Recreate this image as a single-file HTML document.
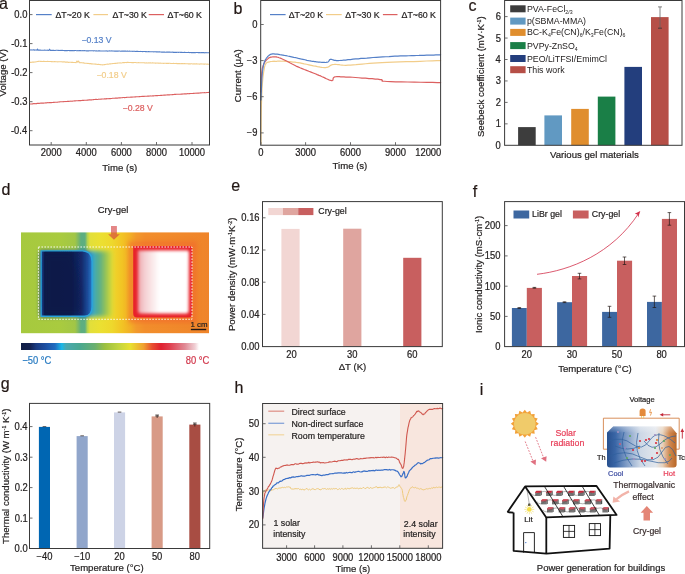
<!DOCTYPE html>
<html><head><meta charset="utf-8"><style>
html,body{margin:0;padding:0;background:#fff;width:685px;height:574px;overflow:hidden}
svg{display:block;will-change:transform;font-family:"Liberation Sans",sans-serif}
</style></head><body>
<svg width="685" height="574" viewBox="0 0 685 574">
<rect width="685" height="574" fill="#fff"/>
<text x="-0.90" y="9.45" font-size="16" fill="#231815" stroke="#231815" stroke-width="0.2">a</text>
<path d="M29.50,49.84 L30.25,49.93 L31.00,49.91 L31.75,49.98 L32.50,50.01 L33.25,49.90 L34.00,49.90 L34.75,50.12 L35.50,50.00 L36.25,50.02 L37.00,50.22 L37.50,48.99 L38.20,50.18 L38.92,50.11 L39.64,50.16 L40.36,50.06 L41.08,50.19 L41.80,50.25 L42.52,50.19 L43.24,50.25 L43.96,50.25 L44.68,50.12 L45.40,50.30 L46.12,50.27 L46.84,50.21 L47.56,50.16 L48.28,50.37 L49.00,50.29 L49.60,49.15 L50.30,50.39 L51.01,50.36 L51.72,50.42 L52.43,50.30 L53.14,50.41 L53.84,50.33 L54.55,50.46 L55.26,50.45 L55.97,50.27 L56.68,50.29 L57.39,50.32 L58.10,50.51 L58.81,50.39 L59.52,50.45 L60.22,50.38 L60.93,50.44 L61.64,50.42 L62.35,50.42 L63.06,50.48 L63.77,50.49 L64.48,50.58 L65.19,50.53 L65.90,50.60 L66.61,50.59 L67.31,50.63 L68.02,50.56 L68.73,50.45 L69.44,50.63 L70.15,50.66 L70.86,50.66 L71.57,50.58 L72.28,50.63 L72.99,50.52 L73.69,50.67 L74.40,50.62 L75.11,50.56 L75.82,50.52 L76.53,50.72 L77.24,50.76 L77.95,50.55 L78.66,50.73 L79.37,50.64 L80.08,50.59 L80.78,50.63 L81.49,50.76 L82.20,50.79 L82.91,50.60 L83.62,50.75 L84.33,50.62 L85.04,50.79 L85.75,50.71 L86.46,50.85 L87.16,50.88 L87.87,50.77 L88.58,50.90 L89.29,50.75 L90.00,50.70 L90.70,50.83 L91.41,50.70 L92.11,50.75 L92.81,50.81 L93.52,50.86 L94.22,50.76 L94.93,50.74 L95.63,50.95 L96.33,50.82 L97.04,50.98 L97.74,50.98 L98.44,50.86 L99.15,50.89 L99.85,50.91 L100.56,50.95 L101.26,50.94 L101.96,50.94 L102.67,50.96 L103.37,51.05 L104.07,50.95 L104.78,50.94 L105.48,51.02 L106.19,50.91 L106.89,50.93 L107.59,51.10 L108.30,51.00 L109.00,51.01 L109.70,50.89 L110.41,50.99 L111.11,51.04 L111.81,50.91 L112.52,51.06 L113.22,51.08 L113.93,50.95 L114.63,51.09 L115.33,51.06 L116.04,51.12 L116.74,51.05 L117.44,51.14 L118.15,51.15 L118.85,50.99 L119.56,51.01 L120.26,51.16 L120.96,51.24 L121.67,51.07 L122.37,51.13 L123.07,51.17 L123.78,51.11 L124.48,51.13 L125.19,51.13 L125.89,51.15 L126.59,51.21 L127.30,51.14 L128.00,51.17 L128.70,51.28 L129.40,51.12 L130.10,51.27 L130.80,51.32 L131.50,51.24 L132.20,51.23 L132.90,51.39 L133.60,51.27 L134.30,51.27 L135.00,51.35 L135.70,51.43 L136.40,51.30 L137.10,51.37 L137.80,51.39 L138.50,51.53 L139.20,51.45 L139.90,51.57 L140.60,51.42 L141.30,51.48 L142.00,51.57 L142.70,51.64 L143.40,51.55 L144.10,51.52 L144.80,51.51 L145.50,51.62 L146.20,51.56 L146.90,51.72 L147.60,51.75 L148.30,51.61 L149.00,51.65 L149.70,51.79 L150.40,51.77 L151.10,51.82 L151.80,51.73 L152.50,51.69 L153.20,51.75 L153.90,51.89 L154.60,51.78 L155.30,51.81 L156.00,51.85 L156.70,51.86 L157.40,51.88 L158.10,52.02 L158.80,51.85 L159.50,51.83 L160.20,52.07 L160.90,52.07 L161.60,52.12 L162.30,52.00 L163.00,52.14 L163.70,52.15 L164.40,52.00 L165.10,52.14 L165.80,52.18 L166.50,52.16 L167.20,52.14 L167.90,52.10 L168.60,52.13 L169.30,52.12 L170.00,52.10 L170.71,52.23 L171.41,52.17 L172.12,52.31 L172.82,52.13 L173.53,52.35 L174.23,52.31 L174.94,52.38 L175.64,52.38 L176.35,52.39 L177.05,52.33 L177.76,52.20 L178.46,52.39 L179.17,52.26 L179.88,52.30 L180.58,52.40 L181.29,52.38 L181.99,52.36 L182.70,52.50 L183.40,52.43 L184.11,52.38 L184.81,52.37 L185.52,52.52 L186.22,52.44 L186.93,52.52 L187.63,52.43 L188.34,52.41 L189.04,52.50 L189.75,52.58 L190.46,52.43 L191.16,52.59 L191.87,52.63 L192.57,52.62 L193.28,52.63 L193.98,52.45 L194.69,52.61 L195.39,52.67 L196.10,52.49 L196.80,52.55 L197.51,52.56 L198.21,52.64 L198.92,52.62 L199.62,52.64 L200.33,52.73 L201.04,52.55 L201.74,52.58 L202.45,52.60 L203.15,52.61 L203.86,52.61 L204.56,52.84 L205.27,52.82 L205.97,52.65 L206.68,52.76 L207.38,52.72 L208.09,52.73 L208.79,52.75 L209.50,52.80" fill="none" stroke="#5580c8" stroke-width="1.1" stroke-linejoin="round" stroke-linecap="round" />
<path d="M29.50,62.54 L30.23,62.41 L30.96,62.39 L31.69,62.24 L32.41,62.12 L33.14,62.11 L33.87,62.14 L34.60,62.02 L35.33,61.92 L36.06,61.70 L36.79,61.68 L37.51,61.52 L38.24,61.41 L38.97,61.30 L39.70,61.23 L40.43,61.42 L41.15,61.41 L41.88,61.43 L42.60,61.44 L43.33,61.32 L44.05,61.36 L44.78,61.46 L45.50,61.50 L46.23,61.55 L46.95,61.57 L47.68,61.40 L48.40,61.54 L49.12,61.57 L49.85,61.55 L50.58,61.49 L51.30,61.58 L52.02,61.51 L52.75,61.73 L53.48,61.73 L54.20,61.67 L54.92,61.63 L55.65,61.79 L56.38,61.73 L57.10,61.82 L57.83,61.83 L58.55,61.77 L59.28,61.76 L60.00,61.82 L60.73,61.82 L61.45,61.79 L62.18,61.86 L62.91,62.02 L63.64,61.87 L64.36,61.91 L65.09,62.08 L65.82,62.04 L66.55,62.14 L67.27,62.16 L68.00,62.16 L68.73,62.36 L69.45,62.20 L70.18,62.29 L70.91,62.27 L71.64,62.41 L72.36,62.36 L73.09,62.42 L73.82,62.55 L74.55,62.48 L75.27,62.58 L76.00,62.70 L77.00,60.90 L77.80,62.29 L78.60,61.03 L79.50,62.66 L80.20,62.69 L80.90,62.67 L81.60,62.76 L82.30,62.79 L83.00,62.92 L83.70,62.89 L84.40,63.11 L85.10,63.23 L85.80,63.31 L86.50,63.32 L87.20,63.44 L87.90,63.28 L88.60,63.42 L89.30,63.65 L90.00,63.67 L90.73,63.65 L91.46,63.86 L92.19,63.86 L92.92,63.98 L93.65,63.93 L94.38,63.98 L95.11,64.12 L95.84,64.12 L96.56,64.26 L97.29,64.48 L98.02,64.40 L98.75,64.40 L99.48,64.48 L100.21,64.59 L100.94,64.82 L101.67,64.79 L102.40,64.85 L103.14,64.71 L103.88,64.83 L104.62,64.60 L105.36,64.45 L106.11,64.32 L106.85,64.23 L107.59,64.16 L108.33,64.19 L109.07,63.97 L109.81,63.85 L110.55,63.86 L111.29,63.71 L112.04,63.80 L112.78,63.49 L113.52,63.50 L114.26,63.46 L115.00,63.28 L115.72,63.37 L116.44,63.19 L117.17,63.09 L117.89,63.08 L118.61,62.94 L119.33,62.98 L120.06,62.89 L120.78,62.99 L121.50,62.93 L122.22,62.80 L122.94,62.64 L123.67,62.64 L124.39,62.59 L125.11,62.53 L125.83,62.49 L126.56,62.59 L127.28,62.36 L128.00,62.29 L128.70,62.52 L129.40,62.45 L130.10,62.57 L130.80,62.44 L131.50,62.58 L132.20,62.54 L132.90,62.59 L133.60,62.59 L134.30,62.55 L135.00,62.47 L135.70,62.51 L136.40,62.69 L137.10,62.71 L137.80,62.74 L138.50,62.61 L139.20,62.70 L139.90,62.76 L140.60,62.73 L141.30,62.79 L142.00,62.74 L142.70,62.79 L143.40,62.81 L144.10,62.73 L144.80,62.90 L145.50,62.93 L146.20,62.73 L146.90,62.96 L147.60,62.98 L148.30,62.92 L149.00,62.79 L149.70,63.01 L150.40,62.84 L151.10,63.06 L151.80,63.01 L152.50,62.88 L153.20,62.92 L153.90,63.05 L154.60,63.05 L155.30,63.11 L156.00,63.17 L156.70,63.02 L157.40,62.98 L158.10,63.22 L158.80,63.02 L159.50,63.24 L160.20,63.07 L160.90,63.26 L161.60,63.27 L162.30,63.31 L163.00,63.25 L163.70,63.34 L164.40,63.20 L165.10,63.32 L165.80,63.26 L166.50,63.41 L167.20,63.40 L167.90,63.34 L168.60,63.37 L169.30,63.27 L170.00,63.29 L170.71,63.44 L171.41,63.43 L172.12,63.53 L172.82,63.48 L173.53,63.38 L174.23,63.45 L174.94,63.56 L175.64,63.52 L176.35,63.41 L177.05,63.62 L177.76,63.64 L178.46,63.47 L179.17,63.60 L179.88,63.57 L180.58,63.68 L181.29,63.58 L181.99,63.58 L182.70,63.65 L183.40,63.78 L184.11,63.59 L184.81,63.61 L185.52,63.74 L186.22,63.82 L186.93,63.75 L187.63,63.74 L188.34,63.86 L189.04,63.85 L189.75,63.70 L190.46,63.91 L191.16,63.76 L191.87,63.80 L192.57,63.94 L193.28,63.85 L193.98,63.96 L194.69,63.82 L195.39,64.00 L196.10,63.85 L196.80,63.86 L197.51,63.96 L198.21,63.93 L198.92,64.00 L199.62,64.10 L200.33,64.06 L201.04,63.91 L201.74,64.00 L202.45,64.07 L203.15,64.07 L203.86,64.14 L204.56,64.10 L205.27,64.01 L205.97,64.07 L206.68,64.23 L207.38,64.12 L208.09,64.24 L208.79,64.30 L209.50,64.20" fill="none" stroke="#f2cd8a" stroke-width="1.1" stroke-linejoin="round" stroke-linecap="round" />
<path d="M29.50,104.02 L30.20,104.00 L30.91,103.96 L31.61,103.94 L32.31,103.86 L33.02,103.85 L33.72,103.62 L34.42,103.66 L35.13,103.71 L35.83,103.60 L36.54,103.60 L37.24,103.40 L37.94,103.42 L38.65,103.33 L39.35,103.34 L40.05,103.30 L40.76,103.14 L41.46,103.13 L42.16,103.09 L42.87,103.17 L43.57,103.10 L44.27,102.93 L44.98,103.01 L45.68,102.83 L46.39,102.87 L47.09,102.73 L47.79,102.66 L48.50,102.78 L49.20,102.60 L49.90,102.56 L50.61,102.66 L51.31,102.59 L52.01,102.43 L52.72,102.51 L53.42,102.38 L54.12,102.36 L54.83,102.22 L55.53,102.32 L56.24,102.22 L56.94,102.23 L57.64,102.16 L58.35,102.00 L59.05,101.96 L59.75,101.88 L60.46,101.82 L61.16,101.76 L61.86,101.76 L62.57,101.77 L63.27,101.60 L63.97,101.69 L64.68,101.57 L65.38,101.52 L66.09,101.58 L66.79,101.46 L67.49,101.38 L68.20,101.36 L68.90,101.36 L69.60,101.18 L70.31,101.32 L71.01,101.08 L71.71,101.18 L72.42,101.15 L73.12,100.94 L73.83,101.04 L74.53,100.91 L75.23,100.90 L75.94,100.74 L76.64,100.70 L77.34,100.68 L78.05,100.79 L78.75,100.59 L79.45,100.65 L80.16,100.64 L80.86,100.59 L81.56,100.43 L82.27,100.38 L82.97,100.37 L83.68,100.37 L84.38,100.19 L85.08,100.27 L85.79,100.23 L86.49,100.20 L87.19,99.98 L87.90,100.12 L88.60,99.90 L89.30,99.90 L90.01,99.91 L90.71,99.92 L91.41,99.76 L92.12,99.83 L92.82,99.70 L93.53,99.61 L94.23,99.56 L94.93,99.48 L95.64,99.42 L96.34,99.38 L97.04,99.44 L97.75,99.46 L98.45,99.24 L99.15,99.17 L99.86,99.31 L100.56,99.17 L101.26,99.10 L101.97,99.02 L102.67,99.04 L103.38,99.04 L104.08,98.92 L104.78,98.86 L105.49,98.74 L106.19,98.87 L106.89,98.64 L107.60,98.69 L108.30,98.71 L109.00,98.52 L109.71,98.59 L110.41,98.59 L111.11,98.47 L111.82,98.46 L112.52,98.27 L113.22,98.29 L113.93,98.19 L114.63,98.28 L115.34,98.12 L116.04,98.10 L116.74,98.17 L117.45,98.09 L118.15,98.07 L118.85,97.91 L119.56,97.87 L120.26,97.87 L120.96,97.77 L121.67,97.69 L122.37,97.66 L123.07,97.56 L123.78,97.56 L124.48,97.64 L125.19,97.58 L125.89,97.47 L126.59,97.40 L127.30,97.32 L128.00,97.22 L128.70,97.21 L129.41,97.27 L130.11,97.25 L130.81,97.10 L131.51,97.15 L132.22,97.10 L132.92,97.04 L133.62,96.99 L134.32,96.97 L135.03,96.85 L135.73,96.88 L136.43,96.75 L137.13,96.75 L137.84,96.76 L138.54,96.70 L139.24,96.58 L139.94,96.67 L140.65,96.57 L141.35,96.51 L142.05,96.36 L142.75,96.42 L143.46,96.32 L144.16,96.36 L144.86,96.28 L145.56,96.31 L146.27,96.23 L146.97,96.22 L147.67,96.09 L148.38,96.10 L149.08,96.08 L149.78,96.06 L150.48,95.92 L151.19,95.97 L151.89,95.94 L152.59,95.86 L153.29,95.87 L154.00,95.83 L154.70,95.70 L155.40,95.66 L156.10,95.54 L156.81,95.64 L157.51,95.61 L158.21,95.48 L158.91,95.48 L159.62,95.44 L160.32,95.40 L161.02,95.25 L161.72,95.33 L162.43,95.25 L163.13,95.22 L163.83,95.13 L164.53,95.13 L165.24,95.12 L165.94,95.05 L166.64,95.02 L167.34,94.84 L168.05,94.82 L168.75,94.84 L169.45,94.84 L170.16,94.71 L170.86,94.76 L171.56,94.71 L172.26,94.55 L172.97,94.59 L173.67,94.50 L174.37,94.42 L175.07,94.40 L175.78,94.39 L176.48,94.32 L177.18,94.28 L177.88,94.21 L178.59,94.25 L179.29,94.19 L179.99,94.20 L180.69,94.15 L181.40,94.04 L182.10,94.13 L182.80,93.91 L183.50,93.94 L184.21,93.88 L184.91,93.86 L185.61,93.76 L186.31,93.86 L187.02,93.73 L187.72,93.62 L188.42,93.69 L189.12,93.54 L189.83,93.59 L190.53,93.51 L191.23,93.51 L191.94,93.55 L192.64,93.48 L193.34,93.36 L194.04,93.39 L194.75,93.32 L195.45,93.22 L196.15,93.13 L196.85,93.18 L197.56,93.13 L198.26,93.17 L198.96,93.13 L199.66,93.01 L200.37,92.92 L201.07,92.99 L201.77,92.76 L202.47,92.74 L203.18,92.79 L203.88,92.76 L204.58,92.62 L205.28,92.68 L205.99,92.69 L206.69,92.54 L207.39,92.51 L208.09,92.43 L208.80,92.40 L209.50,92.40" fill="none" stroke="#dc6060" stroke-width="1.1" stroke-linejoin="round" stroke-linecap="round" />
<rect x="29.50" y="0.50" width="180.00" height="144.50" fill="none" stroke="#3a3a3a" stroke-width="1"/>
<line x1="29.50" y1="14.60" x2="32.50" y2="14.60" stroke="#5e5e5e" stroke-width="0.9" />
<text transform="translate(14.30,18.11) scale(1,1.08)" font-size="9.4" fill="#252222" stroke="#252222" stroke-width="0.2">0.0</text>
<line x1="29.50" y1="43.60" x2="32.50" y2="43.60" stroke="#5e5e5e" stroke-width="0.9" />
<text transform="translate(11.20,47.11) scale(1,1.08)" font-size="9.4" fill="#252222" stroke="#252222" stroke-width="0.2">-0.1</text>
<line x1="29.50" y1="72.60" x2="32.50" y2="72.60" stroke="#5e5e5e" stroke-width="0.9" />
<text transform="translate(11.20,76.11) scale(1,1.08)" font-size="9.4" fill="#252222" stroke="#252222" stroke-width="0.2">-0.2</text>
<line x1="29.50" y1="101.70" x2="32.50" y2="101.70" stroke="#5e5e5e" stroke-width="0.9" />
<text transform="translate(11.20,105.21) scale(1,1.08)" font-size="9.4" fill="#252222" stroke="#252222" stroke-width="0.2">-0.3</text>
<line x1="29.50" y1="130.70" x2="32.50" y2="130.70" stroke="#5e5e5e" stroke-width="0.9" />
<text transform="translate(11.00,134.21) scale(1,1.08)" font-size="9.4" fill="#252222" stroke="#252222" stroke-width="0.2">-0.4</text>
<line x1="51.20" y1="145.00" x2="51.20" y2="142.00" stroke="#5e5e5e" stroke-width="0.9" />
<text transform="translate(51.20,156.41) scale(1,1.08)" font-size="9.4" text-anchor="middle" fill="#252222" stroke="#252222" stroke-width="0.2">2000</text>
<line x1="86.30" y1="145.00" x2="86.30" y2="142.00" stroke="#5e5e5e" stroke-width="0.9" />
<text transform="translate(86.30,156.41) scale(1,1.08)" font-size="9.4" text-anchor="middle" fill="#252222" stroke="#252222" stroke-width="0.2">4000</text>
<line x1="121.40" y1="145.00" x2="121.40" y2="142.00" stroke="#5e5e5e" stroke-width="0.9" />
<text transform="translate(121.40,156.41) scale(1,1.08)" font-size="9.4" text-anchor="middle" fill="#252222" stroke="#252222" stroke-width="0.2">6000</text>
<line x1="156.50" y1="145.00" x2="156.50" y2="142.00" stroke="#5e5e5e" stroke-width="0.9" />
<text transform="translate(156.50,156.41) scale(1,1.08)" font-size="9.4" text-anchor="middle" fill="#252222" stroke="#252222" stroke-width="0.2">8000</text>
<line x1="192.00" y1="145.00" x2="192.00" y2="142.00" stroke="#5e5e5e" stroke-width="0.9" />
<text transform="translate(192.00,156.41) scale(1,1.08)" font-size="9.4" text-anchor="middle" fill="#252222" stroke="#252222" stroke-width="0.2">10000</text>
<text x="102.35" y="171.45" font-size="9.6" fill="#252222" stroke="#252222" stroke-width="0.2">Time (s)</text>
<text transform="translate(6.30,96.45) rotate(-90)" x="0" y="0" font-size="9.6" fill="#252222" stroke="#252222" stroke-width="0.2">Voltage (V)</text>
<line x1="36.00" y1="14.60" x2="51.70" y2="14.60" stroke="#5580c8" stroke-width="1.2" />
<text x="55.45" y="17.65" font-size="8.8" fill="#252222" stroke="#252222" stroke-width="0.2">ΔT~20 K</text>
<line x1="93.40" y1="14.60" x2="108.00" y2="14.60" stroke="#f2cd8a" stroke-width="1.2" />
<text x="112.50" y="17.65" font-size="8.8" fill="#252222" stroke="#252222" stroke-width="0.2">ΔT~30 K</text>
<line x1="148.70" y1="14.60" x2="164.00" y2="14.60" stroke="#dc6060" stroke-width="1.2" />
<text x="167.50" y="17.65" font-size="8.8" fill="#252222" stroke="#252222" stroke-width="0.2">ΔT~60 K</text>
<text x="81.40" y="43.30" font-size="8.7" fill="#5580c8" stroke="#5580c8" stroke-width="0.2">−0.13 V</text>
<text x="96.55" y="77.50" font-size="8.7" fill="#f2cd8a" stroke="#f2cd8a" stroke-width="0.2">−0.18 V</text>
<text x="122.60" y="111.40" font-size="8.7" fill="#dc6060" stroke="#dc6060" stroke-width="0.2">−0.28 V</text>
<text x="233.40" y="14.10" font-size="16" fill="#231815" stroke="#231815" stroke-width="0.2">b</text>
<path d="M261.00,143.96 L261.01,141.87 L261.03,139.26 L261.05,135.93 L261.06,132.42 L261.09,128.54 L261.12,124.50 L261.15,120.61 L261.19,116.68 L261.24,113.18 L261.30,109.91 L261.37,107.01 L261.44,104.25 L261.53,101.59 L261.62,98.80 L261.71,96.26 L261.82,93.87 L261.93,91.57 L262.04,89.23 L262.17,87.03 L262.30,85.10 L262.44,82.97 L262.59,81.30 L262.75,79.46 L262.92,77.80 L263.09,76.27 L263.26,74.87 L263.45,73.62 L263.63,72.23 L263.81,71.13 L264.00,70.03 L264.18,68.96 L264.35,68.09 L264.51,67.19 L264.68,66.47 L264.86,65.87 L265.04,65.39 L265.24,64.82 L265.47,64.33 L265.72,63.94 L266.00,63.49 L266.31,63.08 L266.62,62.88 L266.96,62.61 L267.31,62.33 L267.69,62.24 L268.09,62.11 L268.52,62.07 L268.98,61.95 L269.47,61.76 L270.00,61.80 L270.58,61.52 L271.21,61.49 L271.88,61.49 L272.58,61.31 L273.31,61.33 L274.06,61.20 L274.81,61.30 L275.55,61.29 L276.29,61.23 L277.00,61.28 L277.67,61.14 L278.29,61.20 L278.88,61.16 L279.46,61.15 L280.06,61.12 L280.70,61.21 L281.39,61.24 L282.15,61.18 L283.02,61.27 L284.00,61.21 L285.09,61.42 L286.24,61.48 L287.46,61.63 L288.76,61.70 L290.12,61.70 L291.56,61.85 L293.06,62.07 L294.64,62.12 L296.28,62.43 L298.00,62.63 L299.88,62.95 L301.96,63.33 L304.19,63.92 L306.52,64.28 L308.88,64.81 L311.20,65.33 L313.44,65.90 L315.52,66.17 L317.39,66.61 L319.00,66.91 L320.33,67.19 L321.45,67.36 L322.40,67.50 L323.20,67.49 L323.89,67.58 L324.52,67.60 L325.11,67.70 L325.69,67.67 L326.31,67.44 L327.00,67.34 L327.69,67.17 L328.30,66.91 L328.87,66.63 L329.41,66.29 L329.96,65.83 L330.54,65.40 L331.17,65.11 L331.89,64.79 L332.73,64.58 L333.70,64.49 L334.73,64.38 L335.76,64.37 L336.81,64.49 L337.93,64.64 L339.14,64.68 L340.50,65.02 L342.02,65.14 L343.76,65.27 L345.74,65.30 L348.00,65.18 L350.49,65.06 L353.15,64.83 L355.98,64.71 L359.00,64.33 L362.23,64.04 L365.68,63.77 L369.37,63.46 L373.31,63.20 L377.52,62.86 L382.00,62.60 L387.13,62.39 L393.08,62.14 L399.62,61.95 L406.48,61.64 L413.43,61.57 L420.20,61.29 L426.55,60.99 L432.24,60.83 L437.00,60.69 L440.60,60.57" fill="none" stroke="#f2cd8a" stroke-width="1.2" stroke-linejoin="round" stroke-linecap="round" />
<path d="M261.00,91.95 L261.03,91.04 L261.07,89.49 L261.11,87.94 L261.16,85.96 L261.21,84.01 L261.27,82.14 L261.34,79.99 L261.42,78.19 L261.50,76.44 L261.60,74.99 L261.70,73.76 L261.79,72.58 L261.89,71.70 L261.99,70.62 L262.10,69.78 L262.23,68.93 L262.38,68.21 L262.55,67.49 L262.76,66.84 L263.00,65.98 L263.28,65.16 L263.58,64.44 L263.92,63.87 L264.28,62.98 L264.66,62.42 L265.06,61.74 L265.48,61.19 L265.91,60.56 L266.35,60.11 L266.80,59.60 L267.25,59.20 L267.70,58.86 L268.16,58.44 L268.63,58.04 L269.11,57.74 L269.62,57.68 L270.16,57.39 L270.73,57.16 L271.34,57.18 L272.00,57.02 L272.67,56.97 L273.33,56.94 L274.00,56.77 L274.69,56.78 L275.42,56.91 L276.22,56.85 L277.10,57.14 L278.08,57.25 L279.17,57.70 L280.40,58.14 L281.77,58.76 L283.28,59.44 L284.90,60.19 L286.61,61.02 L288.41,61.97 L290.27,63.04 L292.18,64.05 L294.12,64.96 L296.06,66.08 L298.00,66.90 L300.00,67.81 L302.12,68.60 L304.31,69.50 L306.56,70.34 L308.81,71.29 L311.04,72.14 L313.21,73.01 L315.28,73.80 L317.22,74.65 L319.00,75.38 L320.64,75.93 L322.21,76.68 L323.69,77.33 L325.10,78.10 L326.41,78.79 L327.64,79.21 L328.78,79.82 L329.82,80.12 L330.76,80.35 L331.60,80.65 L332.25,80.55 L332.65,80.32 L332.87,80.04 L332.98,79.56 L333.04,79.10 L333.11,78.58 L333.25,78.06 L333.54,77.64 L334.04,77.20 L334.80,76.92 L335.77,76.77 L336.84,76.68 L338.01,76.72 L339.31,76.68 L340.72,76.79 L342.28,76.79 L343.97,76.91 L345.82,77.06 L347.83,76.99 L350.00,77.10 L352.50,77.27 L355.42,77.51 L358.64,77.76 L362.04,78.03 L365.51,78.21 L368.95,78.59 L372.22,78.67 L375.24,79.09 L377.86,79.21 L380.00,79.58 L381.42,79.62 L382.13,80.03 L382.32,80.20 L382.22,80.46 L382.03,80.59 L381.95,80.71 L382.20,81.07 L382.99,81.15 L384.52,81.25 L387.00,81.52 L390.71,81.65 L395.60,81.79 L401.34,81.86 L407.66,81.98 L414.24,82.19 L420.78,82.27 L426.99,82.30 L432.56,82.45 L437.20,82.58 L440.60,82.64" fill="none" stroke="#dc6060" stroke-width="1.2" stroke-linejoin="round" stroke-linecap="round" />
<path d="M261.00,99.99 L261.05,98.75 L261.10,97.08 L261.17,95.29 L261.24,92.96 L261.33,90.75 L261.41,88.46 L261.51,85.96 L261.60,83.82 L261.70,81.79 L261.80,79.91 L261.90,78.43 L262.00,77.06 L262.11,75.66 L262.21,74.45 L262.33,73.15 L262.44,72.04 L262.57,70.94 L262.70,69.99 L262.85,69.07 L263.00,68.02 L263.16,67.11 L263.32,66.15 L263.48,65.39 L263.65,64.48 L263.82,63.78 L264.02,63.15 L264.23,62.48 L264.46,61.76 L264.72,61.05 L265.00,60.45 L265.31,59.82 L265.66,59.22 L266.02,58.74 L266.41,58.05 L266.81,57.65 L267.23,57.13 L267.66,56.49 L268.10,56.12 L268.55,55.75 L269.00,55.30 L269.42,55.08 L269.80,54.91 L270.15,54.52 L270.51,54.43 L270.89,54.18 L271.33,54.15 L271.83,54.13 L272.43,53.94 L273.14,53.89 L274.00,53.92 L274.99,54.06 L276.07,54.04 L277.24,54.19 L278.51,54.43 L279.86,54.71 L281.28,54.83 L282.79,55.08 L284.36,55.41 L286.00,55.60 L287.70,56.02 L289.55,56.30 L291.59,56.82 L293.77,57.38 L296.05,57.71 L298.36,58.34 L300.65,58.88 L302.87,59.30 L304.98,59.79 L306.90,60.35 L308.60,60.70 L310.07,60.81 L311.38,61.16 L312.55,61.41 L313.61,61.44 L314.58,61.65 L315.49,61.66 L316.36,61.82 L317.22,61.97 L318.09,62.04 L319.00,62.15 L319.94,62.10 L320.89,62.23 L321.83,62.40 L322.75,62.40 L323.65,62.42 L324.51,62.42 L325.33,62.53 L326.08,62.41 L326.78,62.22 L327.40,62.26 L327.91,61.98 L328.31,61.73 L328.61,61.36 L328.85,61.04 L329.06,60.64 L329.27,60.22 L329.50,59.98 L329.77,59.58 L330.13,59.49 L330.60,59.21 L331.10,59.33 L331.56,59.41 L332.02,59.49 L332.51,59.72 L333.06,59.85 L333.72,60.17 L334.50,60.31 L335.45,60.44 L336.61,60.68 L338.00,60.58 L339.63,60.50 L341.47,60.47 L343.50,60.19 L345.69,60.04 L348.02,59.70 L350.48,59.57 L353.02,59.19 L355.64,58.88 L358.31,58.82 L361.00,58.43 L363.79,58.37 L366.75,58.16 L369.84,57.86 L373.02,57.51 L376.25,57.29 L379.50,57.10 L382.74,56.93 L385.93,56.77 L389.03,56.66 L392.00,56.37 L394.89,56.18 L397.74,56.14 L400.56,55.93 L403.35,55.82 L406.09,55.82 L408.78,55.76 L411.42,55.55 L414.01,55.55 L416.54,55.52 L419.00,55.45 L421.48,55.30 L424.01,55.32 L426.56,55.11 L429.07,55.15 L431.49,55.09 L433.77,55.05 L435.88,54.92 L437.75,54.80 L439.34,54.74 L440.60,54.81" fill="none" stroke="#5580c8" stroke-width="1.2" stroke-linejoin="round" stroke-linecap="round" />
<rect x="260.70" y="0.50" width="179.90" height="144.70" fill="none" stroke="#3a3a3a" stroke-width="1"/>
<line x1="260.70" y1="24.50" x2="263.70" y2="24.50" stroke="#5e5e5e" stroke-width="0.9" />
<text transform="translate(252.20,28.01) scale(1,1.08)" font-size="9.4" fill="#252222" stroke="#252222" stroke-width="0.2">0</text>
<line x1="260.70" y1="60.60" x2="263.70" y2="60.60" stroke="#5e5e5e" stroke-width="0.9" />
<text transform="translate(246.80,64.11) scale(1,1.08)" font-size="9.4" fill="#252222" stroke="#252222" stroke-width="0.2">−3</text>
<line x1="260.70" y1="96.70" x2="263.70" y2="96.70" stroke="#5e5e5e" stroke-width="0.9" />
<text transform="translate(246.80,100.21) scale(1,1.08)" font-size="9.4" fill="#252222" stroke="#252222" stroke-width="0.2">−6</text>
<line x1="260.70" y1="132.90" x2="263.70" y2="132.90" stroke="#5e5e5e" stroke-width="0.9" />
<text transform="translate(246.80,136.41) scale(1,1.08)" font-size="9.4" fill="#252222" stroke="#252222" stroke-width="0.2">−9</text>
<line x1="260.90" y1="145.20" x2="260.90" y2="142.20" stroke="#5e5e5e" stroke-width="0.9" />
<text transform="translate(260.90,156.11) scale(1,1.08)" font-size="9.4" text-anchor="middle" fill="#252222" stroke="#252222" stroke-width="0.2">0</text>
<line x1="305.60" y1="145.20" x2="305.60" y2="142.20" stroke="#5e5e5e" stroke-width="0.9" />
<text transform="translate(305.60,156.11) scale(1,1.08)" font-size="9.4" text-anchor="middle" fill="#252222" stroke="#252222" stroke-width="0.2">3000</text>
<line x1="350.50" y1="145.20" x2="350.50" y2="142.20" stroke="#5e5e5e" stroke-width="0.9" />
<text transform="translate(350.50,156.11) scale(1,1.08)" font-size="9.4" text-anchor="middle" fill="#252222" stroke="#252222" stroke-width="0.2">6000</text>
<line x1="395.50" y1="145.20" x2="395.50" y2="142.20" stroke="#5e5e5e" stroke-width="0.9" />
<text transform="translate(395.50,156.11) scale(1,1.08)" font-size="9.4" text-anchor="middle" fill="#252222" stroke="#252222" stroke-width="0.2">9000</text>
<text transform="translate(415.20,156.11) scale(1,1.08)" font-size="9.4" fill="#252222" stroke="#252222" stroke-width="0.2">12000</text>
<text x="332.50" y="169.40" font-size="9.6" fill="#252222" stroke="#252222" stroke-width="0.2">Time (s)</text>
<text transform="translate(241.20,102.25) rotate(-90)" x="0" y="0" font-size="9.6" fill="#252222" stroke="#252222" stroke-width="0.2">Current (μA)</text>
<line x1="270.00" y1="14.60" x2="285.60" y2="14.60" stroke="#5580c8" stroke-width="1.2" />
<text x="288.65" y="17.65" font-size="8.8" fill="#252222" stroke="#252222" stroke-width="0.2">ΔT~20 K</text>
<line x1="326.00" y1="14.60" x2="341.70" y2="14.60" stroke="#f2cd8a" stroke-width="1.2" />
<text x="345.20" y="17.65" font-size="8.8" fill="#252222" stroke="#252222" stroke-width="0.2">ΔT~30 K</text>
<line x1="382.90" y1="14.60" x2="397.50" y2="14.60" stroke="#dc6060" stroke-width="1.2" />
<text x="401.50" y="17.65" font-size="8.8" fill="#252222" stroke="#252222" stroke-width="0.2">ΔT~60 K</text>
<text x="468.60" y="11.00" font-size="16" fill="#231815" stroke="#231815" stroke-width="0.2">c</text>
<rect x="518.10" y="127.10" width="17.60" height="18.20" fill="#3d3d3d" />
<rect x="544.40" y="115.40" width="17.60" height="29.90" fill="#6199c2" />
<rect x="571.20" y="108.90" width="17.60" height="36.40" fill="#e08e2e" />
<rect x="597.80" y="96.60" width="17.60" height="48.70" fill="#1a7f47" />
<rect x="624.40" y="66.90" width="17.60" height="78.40" fill="#233e7d" />
<rect x="651.00" y="17.10" width="17.60" height="128.20" fill="#b64f47" />
<line x1="660.00" y1="6.90" x2="660.00" y2="28.20" stroke="#666" stroke-width="0.8" />
<line x1="658.00" y1="6.90" x2="662.00" y2="6.90" stroke="#666" stroke-width="0.8" />
<line x1="658.00" y1="28.20" x2="662.00" y2="28.20" stroke="#333" stroke-width="0.8" />
<rect x="504.60" y="0.50" width="177.40" height="144.80" fill="none" stroke="#3a3a3a" stroke-width="1"/>
<text transform="translate(495.60,148.81) scale(1,1.08)" font-size="9.4" fill="#252222" stroke="#252222" stroke-width="0.2">0</text>
<line x1="504.60" y1="123.85" x2="507.60" y2="123.85" stroke="#5e5e5e" stroke-width="0.9" />
<text transform="translate(495.70,127.36) scale(1,1.08)" font-size="9.4" fill="#252222" stroke="#252222" stroke-width="0.2">1</text>
<line x1="504.60" y1="102.40" x2="507.60" y2="102.40" stroke="#5e5e5e" stroke-width="0.9" />
<text transform="translate(495.70,105.96) scale(1,1.08)" font-size="9.4" fill="#252222" stroke="#252222" stroke-width="0.2">2</text>
<line x1="504.60" y1="80.95" x2="507.60" y2="80.95" stroke="#5e5e5e" stroke-width="0.9" />
<text transform="translate(495.70,84.46) scale(1,1.08)" font-size="9.4" fill="#252222" stroke="#252222" stroke-width="0.2">3</text>
<line x1="504.60" y1="59.50" x2="507.60" y2="59.50" stroke="#5e5e5e" stroke-width="0.9" />
<text transform="translate(495.50,63.01) scale(1,1.08)" font-size="9.4" fill="#252222" stroke="#252222" stroke-width="0.2">4</text>
<line x1="504.60" y1="38.05" x2="507.60" y2="38.05" stroke="#5e5e5e" stroke-width="0.9" />
<text transform="translate(495.70,41.51) scale(1,1.08)" font-size="9.4" fill="#252222" stroke="#252222" stroke-width="0.2">5</text>
<line x1="504.60" y1="16.60" x2="507.60" y2="16.60" stroke="#5e5e5e" stroke-width="0.9" />
<text transform="translate(495.70,20.11) scale(1,1.08)" font-size="9.4" fill="#252222" stroke="#252222" stroke-width="0.2">6</text>
<text x="550.00" y="157.85" font-size="9.6" fill="#252222" stroke="#252222" stroke-width="0.2">Various gel materials</text>
<text transform="translate(483.75,137.05) rotate(-90)" x="0" y="0" font-size="9.6" fill="#252222" stroke="#252222" stroke-width="0.2">Seebeck coefficient (mV·K<tspan dy="-3" font-size="5.4">-1</tspan><tspan dy="3">)</tspan></text>
<rect x="510.20" y="5.30" width="15.40" height="7.00" fill="#3d3d3d" />
<text x="526.90" y="11.85" font-size="8.8" fill="#252222">PVA-FeCl<tspan dy="2" font-size="5.2">2/3</tspan></text>
<rect x="510.20" y="17.60" width="15.40" height="7.00" fill="#6199c2" />
<text x="526.90" y="24.15" font-size="8.8" fill="#252222">p(SBMA-MMA)</text>
<rect x="510.20" y="28.90" width="15.40" height="7.00" fill="#e08e2e" />
<text x="526.90" y="35.45" font-size="8.8" fill="#252222">BC-K<tspan dy="2" font-size="5.2">4</tspan><tspan dy="-2">Fe(CN)</tspan><tspan dy="2" font-size="5.2">6</tspan><tspan dy="-2">/K</tspan><tspan dy="2" font-size="5.2">3</tspan><tspan dy="-2">Fe(CN)</tspan><tspan dy="2" font-size="5.2">6</tspan></text>
<rect x="510.20" y="42.10" width="15.40" height="7.00" fill="#1a7f47" />
<text x="526.90" y="48.65" font-size="8.8" fill="#252222">PVPy-ZnSO<tspan dy="2" font-size="5.2">4</tspan></text>
<rect x="510.20" y="55.00" width="15.40" height="7.00" fill="#233e7d" />
<text x="526.90" y="61.55" font-size="8.8" fill="#252222">PEO/LiTFSI/EmimCl</text>
<rect x="510.20" y="66.20" width="15.40" height="7.00" fill="#b64f47" />
<text x="526.90" y="72.75" font-size="8.8" fill="#252222">This work</text>
<text x="1.40" y="195.30" font-size="16" fill="#231815" stroke="#231815" stroke-width="0.2">d</text>
<text x="97.75" y="212.75" font-size="9.5" fill="#252222" stroke="#252222" stroke-width="0.2">Cry-gel</text>
<defs>
<linearGradient id="thermH" x1="21" x2="209" y1="0" y2="0" gradientUnits="userSpaceOnUse"><stop offset="0.0000" stop-color="#a6c93e"/><stop offset="0.2074" stop-color="#a9cb3f"/><stop offset="0.2872" stop-color="#a2c646"/><stop offset="0.3059" stop-color="#7cb866"/><stop offset="0.3191" stop-color="#5cae80"/><stop offset="0.3404" stop-color="#5eae80"/><stop offset="0.3537" stop-color="#b4d24e"/><stop offset="0.3670" stop-color="#e2df3a"/><stop offset="0.4202" stop-color="#ebe032"/><stop offset="0.4840" stop-color="#eed82c"/><stop offset="0.5372" stop-color="#f2c424"/><stop offset="0.5798" stop-color="#f2b026"/><stop offset="0.6117" stop-color="#f29a2c"/><stop offset="0.6596" stop-color="#f28e2c"/><stop offset="1.0000" stop-color="#ef842a"/></linearGradient>
<linearGradient id="halo" x1="21" x2="209" y1="0" y2="0" gradientUnits="userSpaceOnUse"><stop offset="0.1011" stop-color="#1a3a80"/><stop offset="0.3670" stop-color="#1f6cc0"/><stop offset="0.3777" stop-color="#27b2e2"/><stop offset="0.3936" stop-color="#4aa8a0"/><stop offset="0.4202" stop-color="#5cb088"/><stop offset="0.4468" stop-color="#8ec056"/><stop offset="0.4840" stop-color="#d6dc3a"/><stop offset="0.5160" stop-color="#ecdc2c"/></linearGradient>
<linearGradient id="cold" x1="0" x2="1" y1="0" y2="0">
<stop offset="0" stop-color="#1a3f88"/><stop offset="0.06" stop-color="#0c1a4a"/><stop offset="0.6" stop-color="#0d1c4e"/><stop offset="0.8" stop-color="#13296a"/><stop offset="0.92" stop-color="#1c4a98"/><stop offset="1" stop-color="#2470c0"/>
</linearGradient>
<linearGradient id="hot" x1="0" x2="1" y1="0" y2="0">
<stop offset="0" stop-color="#eea4aa"/><stop offset="0.12" stop-color="#f4cdd0"/><stop offset="0.42" stop-color="#ffffff"/><stop offset="1" stop-color="#ffffff"/>
</linearGradient>
<linearGradient id="cbar" x1="21" x2="209" y1="0" y2="0" gradientUnits="userSpaceOnUse"><stop offset="0.0000" stop-color="#0f1d45"/><stop offset="0.0479" stop-color="#13214f"/><stop offset="0.0798" stop-color="#1a3a80"/><stop offset="0.1277" stop-color="#1c4ea0"/><stop offset="0.1809" stop-color="#1f6cc0"/><stop offset="0.2170" stop-color="#1ab8e8"/><stop offset="0.2394" stop-color="#4aa8b0"/><stop offset="0.3138" stop-color="#4aa890"/><stop offset="0.3936" stop-color="#6ab070"/><stop offset="0.4468" stop-color="#9cc040"/><stop offset="0.5160" stop-color="#c0d440"/><stop offset="0.5819" stop-color="#e8e030"/><stop offset="0.6521" stop-color="#f0a030"/><stop offset="0.6968" stop-color="#e85030"/><stop offset="0.7447" stop-color="#e02030"/><stop offset="0.7926" stop-color="#e04050"/><stop offset="0.8723" stop-color="#e08a95"/><stop offset="0.9255" stop-color="#f0d0d5"/><stop offset="0.9468" stop-color="#ffffff"/><stop offset="1.0000" stop-color="#ffffff"/></linearGradient>
<filter id="blur0" x="-20%" y="-20%" width="140%" height="140%"><feGaussianBlur stdDeviation="0.7"/></filter>
<filter id="blur15" x="-20%" y="-20%" width="140%" height="140%"><feGaussianBlur stdDeviation="1.5"/></filter>
<filter id="blur1" x="-20%" y="-20%" width="140%" height="140%"><feGaussianBlur stdDeviation="1.0"/></filter>
<filter id="blur2" x="-20%" y="-20%" width="140%" height="140%"><feGaussianBlur stdDeviation="2.0"/></filter>
<clipPath id="thclip"><rect x="21" y="232.2" width="188" height="101.2"/></clipPath>
</defs>
<g clip-path="url(#thclip)">
<rect x="21.00" y="232.20" width="188.00" height="101.20" fill="url(#thermH)" />
<rect x="40" y="251" width="72" height="65.5" fill="url(#halo)" filter="url(#blur2)"/>
<path d="M40.5,250.3 L83,250.3 Q92.8,250.8 92.8,261 L92.8,307 Q92.8,316.9 85,316.9 L40.5,316.9 Z" fill="#2aa4dc" filter="url(#blur0)"/>
<path d="M41.8,251.6 L82.5,251.6 Q91.4,252.2 91.4,261.5 L91.4,306.5 Q91.4,315.6 84.5,315.6 L41.8,315.6 Z" fill="url(#cold)" filter="url(#blur0)"/>
<path d="M46,256 L70,256 Q80,275 82,300 L82,312 L46,312 Z" fill="#0a1744" opacity="0.35" filter="url(#blur2)"/>
<rect x="131" y="244" width="63" height="76" fill="none" stroke="#f2602e" stroke-width="5" opacity="0.55" filter="url(#blur2)"/>
<path d="M133.2,246 L189.5,246 Q192.3,246.2 192.2,250 L192,314 Q192,317.6 188.5,317.6 L137,317.6 Q133.2,317.6 133.2,313.5 Z" fill="#e8222c" filter="url(#blur0)"/>
<path d="M138,250.5 L187.5,250.5 Q189,250.6 188.9,253 L188.6,311 Q188.6,313.4 186,313.4 L140.5,313.4 Q138,313.4 138,310.5 Z" fill="url(#hot)" filter="url(#blur15)"/>
</g>
<rect x="38.4" y="247" width="153.6" height="72.3" fill="none" stroke="#ffffff" stroke-width="0.9" stroke-dasharray="1.6,1.4"/>
<path d="M111,225.9 L116.9,225.9 L116.9,234.2 L119.8,234.2 L113.95,239.8 L108.1,234.2 L111,234.2 Z" fill="#d43c3c" opacity="0.62"/>
<text x="190.50" y="326.80" font-size="7.9" fill="#252222" stroke="#252222" stroke-width="0.2">1 cm</text>
<rect x="190.90" y="328.80" width="15.30" height="1.40" fill="#231815" />
<rect x="21.00" y="343.00" width="188.00" height="7.00" fill="url(#cbar)" />
<text transform="translate(22.30,363.77) scale(1,1.1)" font-size="9.4" fill="#2a7cc2" stroke="#2a7cc2" stroke-width="0.2">−50 °C</text>
<text transform="translate(185.80,363.77) scale(1,1.1)" font-size="9.4" fill="#d2394d" stroke="#d2394d" stroke-width="0.2">80 °C</text>
<text x="231.20" y="191.00" font-size="16" fill="#231815" stroke="#231815" stroke-width="0.2">e</text>
<rect x="281.40" y="228.90" width="18.20" height="117.70" fill="#f2d6d3" />
<rect x="343.20" y="228.70" width="18.20" height="117.90" fill="#dfa59f" />
<rect x="403.20" y="257.80" width="18.20" height="88.80" fill="#c85f5f" />
<rect x="262.50" y="201.60" width="179.80" height="145.00" fill="none" stroke="#3a3a3a" stroke-width="1"/>
<text transform="translate(241.20,350.11) scale(1,1.08)" font-size="9.4" fill="#252222" stroke="#252222" stroke-width="0.2">0.00</text>
<line x1="262.50" y1="314.40" x2="265.50" y2="314.40" stroke="#5e5e5e" stroke-width="0.9" />
<text transform="translate(241.10,317.91) scale(1,1.08)" font-size="9.4" fill="#252222" stroke="#252222" stroke-width="0.2">0.04</text>
<line x1="262.50" y1="282.20" x2="265.50" y2="282.20" stroke="#5e5e5e" stroke-width="0.9" />
<text transform="translate(241.30,285.71) scale(1,1.08)" font-size="9.4" fill="#252222" stroke="#252222" stroke-width="0.2">0.08</text>
<line x1="262.50" y1="250.00" x2="265.50" y2="250.00" stroke="#5e5e5e" stroke-width="0.9" />
<text transform="translate(241.30,253.51) scale(1,1.08)" font-size="9.4" fill="#252222" stroke="#252222" stroke-width="0.2">0.12</text>
<line x1="262.50" y1="217.80" x2="265.50" y2="217.80" stroke="#5e5e5e" stroke-width="0.9" />
<text transform="translate(241.30,221.31) scale(1,1.08)" font-size="9.4" fill="#252222" stroke="#252222" stroke-width="0.2">0.16</text>
<text transform="translate(291.50,358.26) scale(1,1.08)" font-size="9.4" text-anchor="middle" fill="#252222" stroke="#252222" stroke-width="0.2">20</text>
<text transform="translate(352.30,358.26) scale(1,1.08)" font-size="9.4" text-anchor="middle" fill="#252222" stroke="#252222" stroke-width="0.2">30</text>
<text transform="translate(412.30,358.26) scale(1,1.08)" font-size="9.4" text-anchor="middle" fill="#252222" stroke="#252222" stroke-width="0.2">60</text>
<text x="338.70" y="370.35" font-size="9.6" fill="#252222" stroke="#252222" stroke-width="0.2">ΔT (K)</text>
<rect x="268.30" y="208.00" width="14.60" height="7.10" fill="#f2d6d3" />
<rect x="282.90" y="208.00" width="15.30" height="7.10" fill="#dfa59f" />
<rect x="298.20" y="208.00" width="15.20" height="7.10" fill="#c85f5f" />
<text x="318.30" y="213.85" font-size="8.8" fill="#252222" stroke="#252222" stroke-width="0.2">Cry-gel</text>
<text transform="translate(234.95,331.05) rotate(-90)" x="0" y="0" font-size="9.6" fill="#252222" stroke="#252222" stroke-width="0.2">Power density (mW·m<tspan dy="-3" font-size="5.4">-1</tspan><tspan dy="3">K</tspan><tspan dy="-3" font-size="5.4">-2</tspan><tspan dy="3">)</tspan></text>
<text x="472.85" y="197.05" font-size="16" fill="#231815" stroke="#231815" stroke-width="0.2">f</text>
<rect x="511.90" y="308.00" width="14.90" height="38.60" fill="#3d67a0" />
<rect x="557.10" y="302.20" width="14.90" height="44.40" fill="#3d67a0" />
<rect x="602.10" y="311.90" width="14.90" height="34.70" fill="#3d67a0" />
<rect x="647.00" y="301.90" width="14.90" height="44.70" fill="#3d67a0" />
<rect x="526.80" y="287.90" width="15.10" height="58.70" fill="#c85f5f" />
<rect x="572.00" y="276.00" width="15.10" height="70.60" fill="#c85f5f" />
<rect x="617.00" y="260.70" width="15.10" height="85.90" fill="#c85f5f" />
<rect x="661.90" y="218.90" width="15.10" height="127.70" fill="#c85f5f" />
<line x1="519.30" y1="307.60" x2="519.30" y2="308.40" stroke="#231815" stroke-width="0.7" />
<line x1="517.50" y1="307.60" x2="521.10" y2="307.60" stroke="#231815" stroke-width="0.7" />
<line x1="517.50" y1="308.40" x2="521.10" y2="308.40" stroke="#231815" stroke-width="0.7" />
<line x1="534.40" y1="287.40" x2="534.40" y2="288.20" stroke="#231815" stroke-width="0.7" />
<line x1="532.60" y1="287.40" x2="536.20" y2="287.40" stroke="#231815" stroke-width="0.7" />
<line x1="532.60" y1="288.20" x2="536.20" y2="288.20" stroke="#231815" stroke-width="0.7" />
<line x1="564.50" y1="301.80" x2="564.50" y2="302.60" stroke="#231815" stroke-width="0.7" />
<line x1="562.70" y1="301.80" x2="566.30" y2="301.80" stroke="#231815" stroke-width="0.7" />
<line x1="562.70" y1="302.60" x2="566.30" y2="302.60" stroke="#231815" stroke-width="0.7" />
<line x1="579.50" y1="273.30" x2="579.50" y2="278.90" stroke="#231815" stroke-width="0.7" />
<line x1="577.70" y1="273.30" x2="581.30" y2="273.30" stroke="#231815" stroke-width="0.7" />
<line x1="577.70" y1="278.90" x2="581.30" y2="278.90" stroke="#231815" stroke-width="0.7" />
<line x1="609.50" y1="306.30" x2="609.50" y2="317.30" stroke="#231815" stroke-width="0.7" />
<line x1="607.70" y1="306.30" x2="611.30" y2="306.30" stroke="#231815" stroke-width="0.7" />
<line x1="607.70" y1="317.30" x2="611.30" y2="317.30" stroke="#231815" stroke-width="0.7" />
<line x1="624.50" y1="257.00" x2="624.50" y2="264.50" stroke="#231815" stroke-width="0.7" />
<line x1="622.70" y1="257.00" x2="626.30" y2="257.00" stroke="#231815" stroke-width="0.7" />
<line x1="622.70" y1="264.50" x2="626.30" y2="264.50" stroke="#231815" stroke-width="0.7" />
<line x1="654.40" y1="296.10" x2="654.40" y2="307.50" stroke="#231815" stroke-width="0.7" />
<line x1="652.60" y1="296.10" x2="656.20" y2="296.10" stroke="#231815" stroke-width="0.7" />
<line x1="652.60" y1="307.50" x2="656.20" y2="307.50" stroke="#231815" stroke-width="0.7" />
<line x1="669.40" y1="212.60" x2="669.40" y2="225.20" stroke="#231815" stroke-width="0.7" />
<line x1="667.60" y1="212.60" x2="671.20" y2="212.60" stroke="#231815" stroke-width="0.7" />
<line x1="667.60" y1="225.20" x2="671.20" y2="225.20" stroke="#231815" stroke-width="0.7" />
<rect x="504.60" y="201.60" width="179.90" height="145.00" fill="none" stroke="#3a3a3a" stroke-width="1"/>
<text transform="translate(495.30,350.11) scale(1,1.08)" font-size="9.4" fill="#252222" stroke="#252222" stroke-width="0.2">0</text>
<line x1="504.60" y1="316.40" x2="507.60" y2="316.40" stroke="#5e5e5e" stroke-width="0.9" />
<text transform="translate(490.10,319.91) scale(1,1.08)" font-size="9.4" fill="#252222" stroke="#252222" stroke-width="0.2">50</text>
<line x1="504.60" y1="286.20" x2="507.60" y2="286.20" stroke="#5e5e5e" stroke-width="0.9" />
<text transform="translate(484.80,289.71) scale(1,1.08)" font-size="9.4" fill="#252222" stroke="#252222" stroke-width="0.2">100</text>
<line x1="504.60" y1="255.90" x2="507.60" y2="255.90" stroke="#5e5e5e" stroke-width="0.9" />
<text transform="translate(484.80,259.41) scale(1,1.08)" font-size="9.4" fill="#252222" stroke="#252222" stroke-width="0.2">150</text>
<line x1="504.60" y1="225.60" x2="507.60" y2="225.60" stroke="#5e5e5e" stroke-width="0.9" />
<text transform="translate(484.80,229.11) scale(1,1.08)" font-size="9.4" fill="#252222" stroke="#252222" stroke-width="0.2">200</text>
<text transform="translate(526.80,358.41) scale(1,1.08)" font-size="9.4" text-anchor="middle" fill="#252222" stroke="#252222" stroke-width="0.2">20</text>
<text transform="translate(572.00,358.41) scale(1,1.08)" font-size="9.4" text-anchor="middle" fill="#252222" stroke="#252222" stroke-width="0.2">30</text>
<text transform="translate(617.00,358.41) scale(1,1.08)" font-size="9.4" text-anchor="middle" fill="#252222" stroke="#252222" stroke-width="0.2">50</text>
<text transform="translate(661.60,358.41) scale(1,1.08)" font-size="9.4" text-anchor="middle" fill="#252222" stroke="#252222" stroke-width="0.2">80</text>
<text x="558.15" y="371.80" font-size="9.6" fill="#252222" stroke="#252222" stroke-width="0.2">Temperature (°C)</text>
<rect x="513.50" y="210.50" width="15.70" height="8.00" fill="#3d67a0" />
<text x="532.10" y="216.80" font-size="8.8" fill="#252222" stroke="#252222" stroke-width="0.2">LiBr gel</text>
<rect x="572.90" y="210.50" width="15.70" height="8.00" fill="#c85f5f" />
<text x="591.80" y="216.80" font-size="8.8" fill="#252222" stroke="#252222" stroke-width="0.2">Cry-gel</text>
<path d="M537,274.3 C570,270.5 612,254 638.6,213.4" fill="none" stroke="#d2304a" stroke-width="0.8"/>
<path d="M640.3,211 L634.8,213.8 L637.6,214.6 L638.2,217.4 Z" fill="#d2304a"/>
<text transform="translate(481.95,333.05) rotate(-90)" x="0" y="0" font-size="9.6" fill="#252222" stroke="#252222" stroke-width="0.2">Ionic conductivity (mS·cm<tspan dy="-3" font-size="5.4">-1</tspan><tspan dy="3">)</tspan></text>
<text x="0.80" y="388.55" font-size="16" fill="#231815" stroke="#231815" stroke-width="0.2">g</text>
<rect x="38.90" y="426.90" width="11.10" height="121.60" fill="#0066b2" />
<line x1="42.65" y1="426.60" x2="46.25" y2="426.60" stroke="#231815" stroke-width="0.7" />
<rect x="76.60" y="436.10" width="11.10" height="112.40" fill="#91a6cb" />
<line x1="80.35" y1="435.80" x2="83.95" y2="435.80" stroke="#231815" stroke-width="0.7" />
<rect x="114.00" y="412.40" width="11.10" height="136.10" fill="#cdd3e6" />
<line x1="117.75" y1="412.10" x2="121.35" y2="412.10" stroke="#231815" stroke-width="0.7" />
<rect x="151.60" y="416.40" width="11.10" height="132.10" fill="#d89a86" />
<line x1="155.35" y1="416.10" x2="158.95" y2="416.10" stroke="#231815" stroke-width="0.7" />
<rect x="189.30" y="424.60" width="11.10" height="123.90" fill="#a84d43" />
<line x1="193.05" y1="424.30" x2="196.65" y2="424.30" stroke="#231815" stroke-width="0.7" />
<line x1="157.15" y1="415.00" x2="157.15" y2="418.00" stroke="#231815" stroke-width="0.7" />
<line x1="155.35" y1="415.00" x2="158.95" y2="415.00" stroke="#231815" stroke-width="0.7" />
<line x1="194.85" y1="423.00" x2="194.85" y2="426.50" stroke="#231815" stroke-width="0.7" />
<line x1="193.05" y1="423.00" x2="196.65" y2="423.00" stroke="#231815" stroke-width="0.7" />
<rect x="29.50" y="403.40" width="180.20" height="145.10" fill="none" stroke="#3a3a3a" stroke-width="1"/>
<text transform="translate(14.60,552.01) scale(1,1.08)" font-size="9.4" fill="#252222" stroke="#252222" stroke-width="0.2">0.0</text>
<line x1="29.50" y1="518.10" x2="32.50" y2="518.10" stroke="#5e5e5e" stroke-width="0.9" />
<text transform="translate(14.70,521.61) scale(1,1.08)" font-size="9.4" fill="#252222" stroke="#252222" stroke-width="0.2">0.1</text>
<line x1="29.50" y1="487.60" x2="32.50" y2="487.60" stroke="#5e5e5e" stroke-width="0.9" />
<text transform="translate(14.70,491.11) scale(1,1.08)" font-size="9.4" fill="#252222" stroke="#252222" stroke-width="0.2">0.2</text>
<line x1="29.50" y1="457.20" x2="32.50" y2="457.20" stroke="#5e5e5e" stroke-width="0.9" />
<text transform="translate(14.70,460.71) scale(1,1.08)" font-size="9.4" fill="#252222" stroke="#252222" stroke-width="0.2">0.3</text>
<line x1="29.50" y1="426.60" x2="32.50" y2="426.60" stroke="#5e5e5e" stroke-width="0.9" />
<text transform="translate(14.50,430.11) scale(1,1.08)" font-size="9.4" fill="#252222" stroke="#252222" stroke-width="0.2">0.4</text>
<text transform="translate(44.45,560.21) scale(1,1.08)" font-size="9.4" text-anchor="middle" fill="#252222" stroke="#252222" stroke-width="0.2">−40</text>
<text transform="translate(82.20,560.21) scale(1,1.08)" font-size="9.4" text-anchor="middle" fill="#252222" stroke="#252222" stroke-width="0.2">−10</text>
<text transform="translate(119.50,560.21) scale(1,1.08)" font-size="9.4" text-anchor="middle" fill="#252222" stroke="#252222" stroke-width="0.2">20</text>
<text transform="translate(157.10,560.21) scale(1,1.08)" font-size="9.4" text-anchor="middle" fill="#252222" stroke="#252222" stroke-width="0.2">50</text>
<text transform="translate(194.80,560.21) scale(1,1.08)" font-size="9.4" text-anchor="middle" fill="#252222" stroke="#252222" stroke-width="0.2">80</text>
<text x="70.00" y="571.30" font-size="9.6" fill="#252222" stroke="#252222" stroke-width="0.2">Temperature (°C)</text>
<text transform="translate(8.50,543.95) rotate(-90)" x="0" y="0" font-size="9.6" fill="#252222" stroke="#252222" stroke-width="0.2">Thermal conductivity (W m<tspan dy="-3" font-size="5.4">-1</tspan><tspan dy="3"> K</tspan><tspan dy="-3" font-size="5.4">-1</tspan><tspan dy="3">)</tspan></text>
<text x="234.40" y="392.75" font-size="16" fill="#231815" stroke="#231815" stroke-width="0.2">h</text>
<rect x="262.60" y="403.50" width="137.40" height="144.80" fill="#f6f2f0" />
<rect x="400.00" y="403.50" width="42.60" height="144.80" fill="#f8e6de" />
<path d="M262.70,495.93 L262.77,495.68 L262.82,495.64 L262.89,494.26 L262.97,493.57 L263.11,492.93 L263.31,491.61 L263.60,491.49 L264.00,491.19 L264.50,491.13 L265.08,489.87 L265.73,490.06 L266.46,489.67 L267.25,490.70 L268.11,490.48 L269.03,489.43 L270.00,490.72 L271.07,490.53 L272.26,489.90 L273.53,489.66 L274.85,488.78 L276.19,488.37 L277.52,488.94 L278.80,488.04 L280.00,488.04 L281.14,487.88 L282.25,487.29 L283.35,487.65 L284.41,487.33 L285.45,487.67 L286.46,486.98 L287.45,487.04 L288.40,486.80 L289.19,487.15 L289.75,487.06 L290.20,487.09 L290.66,488.53 L291.26,488.89 L292.10,489.01 L293.31,489.11 L295.00,488.72 L296.11,488.66 L297.21,488.81 L298.52,488.52 L299.84,489.61 L300.83,489.08 L301.82,489.76 L302.81,489.09 L303.88,489.95 L304.96,489.79 L306.04,488.53 L307.18,488.84 L308.31,489.89 L309.45,489.23 L310.62,489.99 L311.79,489.11 L312.97,488.61 L314.15,489.44 L315.33,489.65 L316.51,488.88 L317.67,488.60 L318.84,488.96 L320.00,489.90 L321.17,489.58 L322.34,488.61 L323.51,488.79 L324.42,488.56 L325.33,488.48 L326.24,489.58 L327.15,488.64 L328.08,489.19 L329.02,489.01 L329.95,488.61 L330.88,489.41 L331.83,488.49 L332.79,489.24 L333.74,488.43 L334.69,488.87 L335.65,488.54 L336.61,488.60 L337.57,489.63 L338.53,489.36 L339.49,488.59 L340.46,489.43 L341.42,488.40 L342.38,488.65 L343.34,489.32 L344.30,488.97 L345.26,488.14 L346.22,489.44 L347.16,488.25 L348.11,488.29 L349.05,489.04 L350.00,488.34 L350.96,488.26 L351.92,487.89 L352.88,487.89 L353.85,488.59 L354.84,488.04 L355.84,488.54 L356.83,488.15 L357.83,488.23 L358.84,488.95 L359.85,488.19 L360.86,488.28 L361.87,488.67 L362.87,487.60 L363.87,487.51 L364.87,488.60 L365.88,488.41 L366.85,487.52 L367.83,487.38 L368.80,488.16 L369.78,488.42 L370.70,487.26 L371.63,488.36 L372.56,488.21 L373.48,487.76 L374.63,487.44 L375.77,486.92 L376.92,486.79 L377.95,488.15 L378.97,487.03 L380.00,487.71 L380.92,487.03 L381.84,487.88 L382.76,487.54 L384.02,487.12 L385.29,486.97 L386.44,487.84 L387.59,486.92 L388.64,487.22 L389.68,487.78 L390.62,488.27 L391.56,487.97 L393.24,487.54 L394.71,488.51 L396.00,487.36 L397.01,486.84 L397.69,486.84 L398.12,486.64 L398.37,485.57 L398.52,485.28 L398.64,485.20 L398.81,485.30 L399.10,484.65 L399.47,485.20 L399.83,486.32 L400.19,486.90 L400.55,486.97 L400.91,487.69 L401.27,488.30 L401.63,488.50 L402.00,489.30 L402.36,490.54 L402.72,493.53 L403.06,495.10 L403.42,497.41 L403.79,497.77 L404.19,500.16 L404.62,500.89 L405.10,501.55 L405.63,500.38 L406.20,500.11 L406.80,496.92 L407.43,495.51 L408.08,493.59 L408.74,491.75 L409.42,489.76 L410.10,488.51 L410.79,487.95 L411.50,487.73 L412.23,486.71 L412.98,487.21 L413.73,487.65 L414.48,487.77 L415.24,487.26 L416.00,487.94 L416.66,488.17 L417.20,487.97 L417.68,488.34 L418.19,488.29 L418.82,488.90 L419.64,489.18 L420.74,488.55 L422.20,489.41 L423.20,489.87 L424.21,489.63 L425.49,489.27 L426.78,488.62 L427.76,489.02 L428.73,488.67 L429.71,488.34 L430.73,488.79 L431.76,487.52 L432.79,488.38 L433.80,487.16 L434.81,487.87 L435.82,487.54 L436.75,487.03 L437.67,487.60 L438.60,487.16 L439.77,487.17 L440.93,487.46 L442.60,486.60" fill="none" stroke="#efca7c" stroke-width="1.0" stroke-linejoin="round" stroke-linecap="round" />
<path d="M262.70,517.98 L262.95,516.56 L263.26,514.42 L263.63,511.43 L264.05,508.51 L264.51,505.90 L265.02,503.01 L265.55,500.88 L266.10,498.65 L266.69,496.81 L267.35,495.18 L268.04,493.82 L268.76,492.10 L269.50,491.15 L270.25,489.83 L270.98,489.40 L271.70,487.75 L272.38,487.47 L273.03,486.13 L273.68,485.98 L274.33,485.13 L274.99,484.67 L275.70,484.52 L276.47,483.36 L277.30,482.85 L278.20,482.96 L279.14,482.06 L280.13,481.16 L281.16,481.33 L282.23,480.76 L283.34,479.59 L284.50,479.37 L285.70,478.71 L286.90,478.47 L288.09,478.38 L289.30,477.72 L290.56,477.88 L291.90,477.11 L293.37,476.95 L294.99,477.22 L295.90,476.75 L296.80,476.64 L297.87,476.63 L298.93,476.39 L300.17,476.16 L301.41,475.72 L302.76,476.11 L304.11,476.14 L305.04,476.04 L305.97,475.69 L306.89,475.34 L307.81,475.24 L308.72,475.41 L309.64,475.30 L310.92,474.73 L312.21,474.70 L313.34,474.70 L314.47,474.73 L315.39,474.91 L316.30,474.60 L317.61,474.21 L318.50,474.94 L319.09,474.79 L319.50,475.07 L319.86,475.03 L320.30,475.36 L320.94,475.42 L321.90,475.72 L323.17,475.05 L324.60,475.20 L326.18,474.62 L327.86,474.72 L329.62,473.86 L331.42,473.73 L332.32,473.64 L333.22,473.74 L335.00,473.04 L336.68,473.21 L338.26,472.89 L339.83,472.87 L341.44,472.95 L343.19,473.26 L344.17,472.83 L345.15,473.17 L346.27,472.47 L347.39,473.02 L348.70,472.48 L350.00,472.25 L351.04,472.62 L352.09,472.66 L353.13,471.86 L354.04,471.99 L354.95,472.31 L355.86,471.89 L356.77,471.73 L357.77,471.46 L358.77,471.40 L359.77,471.77 L360.77,471.97 L361.81,471.89 L362.85,471.41 L363.89,470.93 L364.94,471.08 L365.98,471.36 L367.03,471.31 L368.07,471.06 L369.12,470.64 L370.12,470.80 L371.12,470.68 L372.13,470.72 L373.13,470.35 L374.05,470.83 L374.98,470.72 L375.90,470.07 L376.82,470.11 L377.88,470.52 L378.94,469.98 L380.00,470.46 L380.91,470.07 L381.83,470.18 L382.74,470.14 L383.99,469.70 L385.24,469.70 L386.37,469.64 L387.50,469.95 L388.53,469.94 L389.56,469.48 L390.48,470.11 L391.41,469.75 L393.09,469.73 L394.62,470.11 L396.00,470.88 L397.17,471.10 L398.09,471.96 L398.80,473.15 L399.36,474.19 L399.82,475.00 L400.23,475.56 L400.64,476.30 L401.10,476.82 L401.59,476.57 L402.03,475.86 L402.44,474.88 L402.82,473.97 L403.17,473.34 L403.50,472.42 L403.81,471.45 L404.10,471.87 L404.35,472.39 L404.53,473.09 L404.68,474.23 L404.81,475.43 L404.96,476.29 L405.14,477.48 L405.38,477.82 L405.70,477.78 L406.09,477.66 L406.52,476.94 L406.98,476.46 L407.49,475.09 L408.06,473.69 L408.67,472.46 L409.35,470.85 L410.10,470.13 L410.96,469.29 L411.96,468.02 L413.05,466.86 L414.18,465.99 L415.30,464.98 L416.38,464.44 L417.36,463.32 L418.20,462.77 L418.87,462.70 L419.39,462.99 L419.82,463.20 L420.21,463.38 L420.59,463.87 L421.01,463.63 L421.54,463.45 L422.20,463.69 L422.98,463.31 L423.82,462.59 L424.71,462.36 L425.67,461.41 L426.70,460.62 L427.80,460.02 L428.96,459.92 L430.20,458.71 L431.62,458.63 L433.28,458.28 L435.07,457.97 L435.99,458.06 L436.90,457.79 L438.66,458.19 L440.27,457.72 L441.61,457.76 L442.60,457.50" fill="none" stroke="#3a6fc6" stroke-width="1.2" stroke-linejoin="round" stroke-linecap="round" />
<path d="M262.70,518.78 L262.76,517.98 L262.83,516.35 L262.92,514.57 L263.02,511.84 L263.13,509.68 L263.25,507.43 L263.37,505.49 L263.50,504.21 L263.63,502.15 L263.76,501.08 L263.89,499.44 L264.03,498.24 L264.19,497.16 L264.36,496.39 L264.57,495.11 L264.80,493.56 L265.06,492.88 L265.34,491.97 L265.64,491.91 L265.97,491.20 L266.32,490.56 L266.69,489.94 L267.08,489.18 L267.50,488.60 L267.96,487.67 L268.46,486.41 L269.00,486.15 L269.55,485.01 L270.11,484.39 L270.66,483.29 L271.20,482.16 L271.70,480.98 L272.18,479.71 L272.64,478.05 L273.09,476.19 L273.54,475.09 L273.97,473.39 L274.39,472.02 L274.80,470.45 L275.20,469.35 L275.56,468.92 L275.87,468.07 L276.15,468.48 L276.42,468.34 L276.72,468.24 L277.07,468.39 L277.49,468.73 L278.00,468.38 L278.58,468.31 L279.18,468.12 L279.83,467.57 L280.54,466.94 L281.33,466.86 L282.21,466.24 L283.19,465.88 L284.30,465.53 L285.52,465.41 L286.83,464.90 L288.23,465.20 L289.73,465.26 L291.33,464.55 L293.04,464.64 L293.95,464.72 L294.86,463.82 L295.83,463.79 L296.80,464.28 L297.90,464.17 L299.00,463.86 L300.25,463.29 L301.51,463.37 L302.41,463.67 L303.31,463.58 L304.21,463.41 L305.13,462.76 L306.06,463.25 L306.98,462.71 L307.89,462.92 L308.79,462.31 L309.70,462.96 L310.97,462.51 L312.24,462.49 L313.36,461.94 L314.48,462.21 L315.39,462.13 L316.30,462.08 L317.61,461.87 L318.50,462.30 L319.09,462.12 L319.50,462.28 L319.86,462.37 L320.30,463.01 L320.94,462.62 L321.90,462.75 L323.17,462.56 L324.60,462.96 L326.18,462.73 L327.86,462.53 L329.62,461.87 L331.42,462.00 L332.32,461.80 L333.22,461.46 L335.00,461.15 L336.68,461.82 L338.26,460.78 L339.83,460.68 L341.44,460.38 L343.19,460.40 L344.17,459.79 L345.15,460.01 L346.27,459.78 L347.39,460.06 L348.70,459.19 L350.00,459.35 L351.04,459.41 L352.09,459.74 L353.13,459.24 L354.04,459.13 L354.95,459.23 L355.86,458.82 L356.77,458.51 L357.77,458.86 L358.77,459.15 L359.77,458.92 L360.77,458.41 L361.81,458.72 L362.85,458.79 L363.89,458.19 L364.94,458.41 L365.98,458.13 L367.03,457.96 L368.07,457.93 L369.12,457.79 L370.12,457.86 L371.12,457.52 L372.13,457.78 L373.13,457.44 L374.05,458.00 L374.98,457.81 L375.90,457.23 L376.82,457.87 L377.88,457.30 L378.94,457.52 L380.00,457.55 L380.92,457.32 L381.83,457.26 L382.75,457.36 L384.01,457.07 L385.26,457.69 L386.41,457.00 L387.55,457.63 L388.58,457.10 L389.62,457.19 L390.55,457.30 L391.49,457.02 L393.16,457.25 L394.67,457.67 L396.00,458.05 L397.09,458.85 L397.89,459.48 L398.46,459.24 L398.86,460.36 L399.17,460.70 L399.43,462.02 L399.72,462.29 L400.10,463.45 L400.53,463.90 L400.95,464.46 L401.35,465.36 L401.73,466.56 L402.10,467.95 L402.45,467.87 L402.78,468.37 L403.10,467.98 L403.40,467.17 L403.67,466.37 L403.92,464.29 L404.16,462.92 L404.39,460.85 L404.62,458.93 L404.86,456.33 L405.10,454.48 L405.34,451.70 L405.58,449.22 L405.81,446.50 L406.04,443.85 L406.28,441.06 L406.53,437.61 L406.80,435.07 L407.10,433.13 L407.42,431.31 L407.75,429.11 L408.10,427.07 L408.47,425.97 L408.85,423.79 L409.25,422.15 L409.67,420.79 L410.10,419.58 L410.56,419.18 L411.05,417.80 L411.56,417.68 L412.09,417.26 L412.62,416.90 L413.16,416.27 L413.68,415.45 L414.20,415.11 L414.70,414.70 L415.18,413.95 L415.66,412.91 L416.14,412.71 L416.63,411.56 L417.13,411.28 L417.65,411.59 L418.20,410.97 L418.77,410.92 L419.36,411.78 L419.96,412.05 L420.57,412.30 L421.21,412.98 L421.86,413.74 L422.52,414.17 L423.20,414.79 L423.85,413.94 L424.46,414.01 L425.05,413.36 L425.67,412.21 L426.36,411.94 L427.16,410.97 L428.09,410.07 L429.20,409.39 L430.61,409.23 L432.34,409.38 L433.31,408.96 L434.27,408.56 L435.27,408.65 L436.28,408.68 L437.25,408.37 L438.23,408.67 L440.02,408.11 L441.52,408.76 L442.60,408.40" fill="none" stroke="#d0584f" stroke-width="1.1" stroke-linejoin="round" stroke-linecap="round" />
<rect x="262.60" y="403.50" width="180.00" height="144.80" fill="none" stroke="#3a3a3a" stroke-width="1"/>
<line x1="262.60" y1="524.90" x2="265.60" y2="524.90" stroke="#5e5e5e" stroke-width="0.9" />
<text transform="translate(248.80,528.41) scale(1,1.08)" font-size="9.4" fill="#252222" stroke="#252222" stroke-width="0.2">20</text>
<line x1="262.60" y1="491.00" x2="265.60" y2="491.00" stroke="#5e5e5e" stroke-width="0.9" />
<text transform="translate(248.80,494.51) scale(1,1.08)" font-size="9.4" fill="#252222" stroke="#252222" stroke-width="0.2">30</text>
<line x1="262.60" y1="457.30" x2="265.60" y2="457.30" stroke="#5e5e5e" stroke-width="0.9" />
<text transform="translate(248.80,460.81) scale(1,1.08)" font-size="9.4" fill="#252222" stroke="#252222" stroke-width="0.2">40</text>
<line x1="262.60" y1="423.70" x2="265.60" y2="423.70" stroke="#5e5e5e" stroke-width="0.9" />
<text transform="translate(248.80,427.21) scale(1,1.08)" font-size="9.4" fill="#252222" stroke="#252222" stroke-width="0.2">50</text>
<line x1="286.60" y1="548.30" x2="286.60" y2="545.30" stroke="#5e5e5e" stroke-width="0.9" />
<text transform="translate(286.60,560.51) scale(1,1.08)" font-size="9.4" text-anchor="middle" fill="#252222" stroke="#252222" stroke-width="0.2">3000</text>
<line x1="314.60" y1="548.30" x2="314.60" y2="545.30" stroke="#5e5e5e" stroke-width="0.9" />
<text transform="translate(314.60,560.51) scale(1,1.08)" font-size="9.4" text-anchor="middle" fill="#252222" stroke="#252222" stroke-width="0.2">6000</text>
<line x1="342.90" y1="548.30" x2="342.90" y2="545.30" stroke="#5e5e5e" stroke-width="0.9" />
<text transform="translate(342.90,560.51) scale(1,1.08)" font-size="9.4" text-anchor="middle" fill="#252222" stroke="#252222" stroke-width="0.2">9000</text>
<line x1="371.40" y1="548.30" x2="371.40" y2="545.30" stroke="#5e5e5e" stroke-width="0.9" />
<text transform="translate(371.40,560.51) scale(1,1.08)" font-size="9.4" text-anchor="middle" fill="#252222" stroke="#252222" stroke-width="0.2">12000</text>
<line x1="399.80" y1="548.30" x2="399.80" y2="545.30" stroke="#5e5e5e" stroke-width="0.9" />
<text transform="translate(399.80,560.51) scale(1,1.08)" font-size="9.4" text-anchor="middle" fill="#252222" stroke="#252222" stroke-width="0.2">15000</text>
<line x1="428.30" y1="548.30" x2="428.30" y2="545.30" stroke="#5e5e5e" stroke-width="0.9" />
<text transform="translate(428.30,560.51) scale(1,1.08)" font-size="9.4" text-anchor="middle" fill="#252222" stroke="#252222" stroke-width="0.2">18000</text>
<text x="335.45" y="571.60" font-size="9.6" fill="#252222" stroke="#252222" stroke-width="0.2">Time (s)</text>
<text transform="translate(241.80,511.25) rotate(-90)" x="0" y="0" font-size="9.6" fill="#252222" stroke="#252222" stroke-width="0.2">Temperature (°C)</text>
<line x1="268.30" y1="411.20" x2="284.20" y2="411.20" stroke="#e0958c" stroke-width="1.3" />
<text x="291.50" y="414.95" font-size="8.8" fill="#252222" stroke="#252222" stroke-width="0.2">Direct surface</text>
<line x1="268.30" y1="423.30" x2="284.20" y2="423.30" stroke="#86a4d8" stroke-width="1.3" />
<text x="291.50" y="427.05" font-size="8.8" fill="#252222" stroke="#252222" stroke-width="0.2">Non-direct surface</text>
<line x1="268.30" y1="434.80" x2="284.20" y2="434.80" stroke="#f2d9a6" stroke-width="1.3" />
<text x="291.50" y="438.55" font-size="8.8" fill="#252222" stroke="#252222" stroke-width="0.2">Room temperature</text>
<text x="273.50" y="525.95" font-size="8.8" fill="#252222" stroke="#252222" stroke-width="0.2">1 solar</text>
<text x="273.20" y="536.90" font-size="8.8" fill="#252222" stroke="#252222" stroke-width="0.2">intensity</text>
<text x="403.85" y="526.70" font-size="8.8" fill="#252222" stroke="#252222" stroke-width="0.2">2.4 solar</text>
<text x="403.30" y="537.20" font-size="8.8" fill="#252222" stroke="#252222" stroke-width="0.2">intensity</text>
<text x="479.65" y="395.45" font-size="16" fill="#231815" stroke="#231815" stroke-width="0.2">i</text>
<path d="M538.80,423.80 L535.98,426.02 L537.73,429.16 L534.28,430.13 L534.70,433.70 L531.13,433.28 L530.16,436.73 L527.02,434.98 L524.80,437.80 L522.58,434.98 L519.44,436.73 L518.47,433.28 L514.90,433.70 L515.32,430.13 L511.87,429.16 L513.62,426.02 L510.80,423.80 L513.62,421.58 L511.87,418.44 L515.32,417.47 L514.90,413.90 L518.47,414.32 L519.44,410.87 L522.58,412.62 L524.80,409.80 L527.02,412.62 L530.16,410.87 L531.13,414.32 L534.70,413.90 L534.28,417.47 L537.73,418.44 L535.98,421.58 Z" fill="#f2a23a"/>
<circle cx="524.8" cy="423.8" r="10.8" fill="#f0cb6a"/>
<path d="M525.2,441.5 L533.2,461.5" stroke="#e07080" stroke-width="0.9" stroke-dasharray="1.8,1.3"/>
<path d="M535.6,437.2 L543.8,458.2" stroke="#e07080" stroke-width="0.9" stroke-dasharray="1.8,1.3"/>
<path d="M535.6,465.2 L530.4,461.6 L536.0,459.6 Z" fill="#e07080"/>
<path d="M546.2,461.8 L541.0,458.2 L546.6,456.2 Z" fill="#e07080"/>
<text x="555.40" y="435.95" font-size="8.8" fill="#e8405a" stroke="#e8405a" stroke-width="0.2">Solar</text>
<text x="550.60" y="446.05" font-size="8.8" fill="#e8405a" stroke="#e8405a" stroke-width="0.2">radiation</text>
<defs><linearGradient id="gel" x1="607" x2="676.6" y1="0" y2="0" gradientUnits="userSpaceOnUse"><stop offset="0" stop-color="#28508e"/><stop offset="0.12" stop-color="#3a66a6"/><stop offset="0.28" stop-color="#7f9cc6"/><stop offset="0.48" stop-color="#cdd8e6"/><stop offset="0.7" stop-color="#e2e6ec"/><stop offset="0.8" stop-color="#e8d2bc"/><stop offset="0.9" stop-color="#d08850"/><stop offset="1" stop-color="#b86626"/></linearGradient><linearGradient id="gelTop" x1="0" x2="0" y1="0" y2="1"><stop offset="0" stop-color="#ffffff" stop-opacity="0.35"/><stop offset="1" stop-color="#ffffff" stop-opacity="0"/></linearGradient></defs>
<path d="M607.5,449.2 L603.4,449.2 L603.4,418.2 L679.2,418.2 L679.2,449.2 L676,449.2" fill="none" stroke="#d4834a" stroke-width="0.9"/>
<path d="M613.2,426.4 L671.1,426.4 L676.6,433.3 L676.6,464.5 Q676.6,467.5 673.6,467.5 L610,467.5 Q607,467.5 607,464.5 L607,432.6 Z" fill="url(#gel)"/>
<path d="M613.2,426.4 L671.1,426.4 L676.6,433.3 L607,432.6 Z" fill="url(#gelTop)"/>
<path d="M609,441 Q622,436 632,444 T650,440 T675,443" fill="none" stroke="#2f609c" stroke-width="0.7"/>
<path d="M610,456 Q625,449 640,457 T662,452 T676,456" fill="none" stroke="#2f609c" stroke-width="0.7"/>
<path d="M614,463 Q632,456 650,461 T672,458" fill="none" stroke="#2f609c" stroke-width="0.7"/>
<path d="M624,432 Q618,448 632,466" fill="none" stroke="#2f609c" stroke-width="0.7"/>
<path d="M638,433 Q633,452 645,466" fill="none" stroke="#2f609c" stroke-width="0.7"/>
<path d="M659,433 Q656,450 668,464" fill="none" stroke="#2f609c" stroke-width="0.7"/>
<path d="M644,441 Q652,452 660,444 T676,436" fill="none" stroke="#2f609c" stroke-width="0.7"/>
<path d="M615,446 Q628,452 640,446" fill="none" stroke="#2f609c" stroke-width="0.7"/>
<circle cx="640" cy="441" r="1.1" fill="#d83040"/>
<circle cx="646" cy="440" r="1.1" fill="#d83040"/>
<circle cx="649" cy="439" r="1.1" fill="#d83040"/>
<circle cx="656" cy="443" r="1.1" fill="#d83040"/>
<circle cx="633" cy="450" r="1.1" fill="#d83040"/>
<circle cx="657" cy="453" r="1.1" fill="#d83040"/>
<circle cx="645" cy="461" r="1.1" fill="#d83040"/>
<circle cx="642" cy="461" r="1.1" fill="#d83040"/>
<circle cx="652" cy="458" r="1.1" fill="#d83040"/>
<circle cx="620" cy="444" r="1.1" fill="#c06080"/>
<circle cx="618" cy="432" r="1.1" fill="#a090c0"/>
<circle cx="625" cy="448" r="1.1" fill="#9a88c0"/>
<circle cx="630" cy="436" r="1.1" fill="#60a860"/>
<circle cx="655" cy="448" r="1.1" fill="#60a860"/>
<circle cx="664" cy="441" r="1.1" fill="#60a860"/>
<circle cx="670" cy="455" r="1.1" fill="#60a860"/>
<circle cx="627" cy="458" r="1.1" fill="#60a860"/>
<circle cx="655" cy="435" r="1.1" fill="#a090c0"/>
<circle cx="639" cy="448" r="1.1" fill="#e08030"/>
<circle cx="657" cy="440" r="1.1" fill="#e08030"/>
<circle cx="634" cy="459" r="1.1" fill="#a090c0"/>
<circle cx="665" cy="459" r="1.1" fill="#a090c0"/>
<circle cx="662" cy="448" r="1.1" fill="#e0a070"/>
<path d="M639.6,416 L639.6,411 Q639.6,408.4 642.6,408.4 Q645.6,408.4 645.6,411 L645.6,416 Z" fill="#e48a3a"/>
<path d="M641.5,416 L641.5,418.2 M643.7,416 L643.7,418.2" stroke="#f0c040" stroke-width="0.7"/>
<path d="M650.6,409.2 L649.6,412.6 L651.6,412.2 L650.4,415.6" fill="none" stroke="#e58a3a" stroke-width="0.8"/>
<path d="M670.3,414.8 L662,414.8" stroke="#c42a3a" stroke-width="0.9"/><path d="M659.6,414.8 L663.2,413 L663.2,416.6 Z" fill="#c42a3a"/>
<path d="M682.3,438.6 L682.3,431" stroke="#c42a3a" stroke-width="0.9"/><path d="M682.3,428.3 L680.5,432 L684.1,432 Z" fill="#c42a3a"/>
<text x="629.45" y="401.70" font-size="7.6" fill="#252222" stroke="#252222" stroke-width="0.2">Voltage</text>
<text x="597.00" y="460.45" font-size="7.3" fill="#252222" stroke="#252222" stroke-width="0.2">Th</text>
<text x="677.70" y="460.25" font-size="7.3" fill="#252222" stroke="#252222" stroke-width="0.2">Tc</text>
<text x="608.05" y="475.75" font-size="7.4" fill="#3a4aa0" stroke="#3a4aa0" stroke-width="0.2">Cool</text>
<text x="663.25" y="475.65" font-size="7.6" fill="#e8405a" stroke="#e8405a" stroke-width="0.2">Hot</text>
<path d="M535.2,492.0 L540.6,492.0 L540.6,496.0 L535.2,496.0 Z" fill="#757575"/><path d="M540.6,492.0 L541.8,490.8 L541.8,494.8 L540.6,496.0 Z" fill="#4e4e4e"/><path d="M535.2,492.0 L536.4,490.8 L541.8,490.8 L540.6,492.0 Z" fill="#c4283a"/><rect x="535.2" y="492.0" width="5.4" height="0.9" fill="#d23848"/>
<path d="M546.1,492.0 L551.5,492.0 L551.5,496.0 L546.1,496.0 Z" fill="#757575"/><path d="M551.5,492.0 L552.7,490.8 L552.7,494.8 L551.5,496.0 Z" fill="#4e4e4e"/><path d="M546.1,492.0 L547.3,490.8 L552.7,490.8 L551.5,492.0 Z" fill="#c4283a"/><rect x="546.1" y="492.0" width="5.4" height="0.9" fill="#d23848"/>
<path d="M556.2,492.0 L561.6,492.0 L561.6,496.0 L556.2,496.0 Z" fill="#757575"/><path d="M561.6,492.0 L562.8,490.8 L562.8,494.8 L561.6,496.0 Z" fill="#4e4e4e"/><path d="M556.2,492.0 L557.4,490.8 L562.8,490.8 L561.6,492.0 Z" fill="#c4283a"/><rect x="556.2" y="492.0" width="5.4" height="0.9" fill="#d23848"/>
<path d="M568.0,492.0 L573.4,492.0 L573.4,496.0 L568.0,496.0 Z" fill="#757575"/><path d="M573.4,492.0 L574.6,490.8 L574.6,494.8 L573.4,496.0 Z" fill="#4e4e4e"/><path d="M568.0,492.0 L569.2,490.8 L574.6,490.8 L573.4,492.0 Z" fill="#c4283a"/><rect x="568.0" y="492.0" width="5.4" height="0.9" fill="#d23848"/>
<path d="M578.0,492.0 L583.4,492.0 L583.4,496.0 L578.0,496.0 Z" fill="#757575"/><path d="M583.4,492.0 L584.6,490.8 L584.6,494.8 L583.4,496.0 Z" fill="#4e4e4e"/><path d="M578.0,492.0 L579.2,490.8 L584.6,490.8 L583.4,492.0 Z" fill="#c4283a"/><rect x="578.0" y="492.0" width="5.4" height="0.9" fill="#d23848"/>
<path d="M589.0,492.0 L594.4,492.0 L594.4,496.0 L589.0,496.0 Z" fill="#757575"/><path d="M594.4,492.0 L595.6,490.8 L595.6,494.8 L594.4,496.0 Z" fill="#4e4e4e"/><path d="M589.0,492.0 L590.2,490.8 L595.6,490.8 L594.4,492.0 Z" fill="#c4283a"/><rect x="589.0" y="492.0" width="5.4" height="0.9" fill="#d23848"/>
<path d="M531.2,493.4 Q534.2,497.4 538.2,493.4 Q545.1,489.4 549.1,493.4 Q555.2,497.4 559.2,493.4 Q567.0,489.4 571.0,493.4 Q577.0,497.4 581.0,493.4 Q588.0,489.4 592.0,493.4" fill="none" stroke="#555" stroke-width="0.45"/>
<path d="M541.1,500.4 L546.5,500.4 L546.5,504.4 L541.1,504.4 Z" fill="#757575"/><path d="M546.5,500.4 L547.7,499.2 L547.7,503.2 L546.5,504.4 Z" fill="#4e4e4e"/><path d="M541.1,500.4 L542.3,499.2 L547.7,499.2 L546.5,500.4 Z" fill="#c4283a"/><rect x="541.1" y="500.4" width="5.4" height="0.9" fill="#d23848"/>
<path d="M552.0,500.4 L557.4,500.4 L557.4,504.4 L552.0,504.4 Z" fill="#757575"/><path d="M557.4,500.4 L558.6,499.2 L558.6,503.2 L557.4,504.4 Z" fill="#4e4e4e"/><path d="M552.0,500.4 L553.2,499.2 L558.6,499.2 L557.4,500.4 Z" fill="#c4283a"/><rect x="552.0" y="500.4" width="5.4" height="0.9" fill="#d23848"/>
<path d="M562.1,500.4 L567.5,500.4 L567.5,504.4 L562.1,504.4 Z" fill="#757575"/><path d="M567.5,500.4 L568.7,499.2 L568.7,503.2 L567.5,504.4 Z" fill="#4e4e4e"/><path d="M562.1,500.4 L563.3,499.2 L568.7,499.2 L567.5,500.4 Z" fill="#c4283a"/><rect x="562.1" y="500.4" width="5.4" height="0.9" fill="#d23848"/>
<path d="M573.0,500.4 L578.4,500.4 L578.4,504.4 L573.0,504.4 Z" fill="#757575"/><path d="M578.4,500.4 L579.6,499.2 L579.6,503.2 L578.4,504.4 Z" fill="#4e4e4e"/><path d="M573.0,500.4 L574.2,499.2 L579.6,499.2 L578.4,500.4 Z" fill="#c4283a"/><rect x="573.0" y="500.4" width="5.4" height="0.9" fill="#d23848"/>
<path d="M584.7,500.4 L590.1,500.4 L590.1,504.4 L584.7,504.4 Z" fill="#757575"/><path d="M590.1,500.4 L591.3,499.2 L591.3,503.2 L590.1,504.4 Z" fill="#4e4e4e"/><path d="M584.7,500.4 L585.9,499.2 L591.3,499.2 L590.1,500.4 Z" fill="#c4283a"/><rect x="584.7" y="500.4" width="5.4" height="0.9" fill="#d23848"/>
<path d="M595.6,500.4 L601.0,500.4 L601.0,504.4 L595.6,504.4 Z" fill="#757575"/><path d="M601.0,500.4 L602.2,499.2 L602.2,503.2 L601.0,504.4 Z" fill="#4e4e4e"/><path d="M595.6,500.4 L596.8,499.2 L602.2,499.2 L601.0,500.4 Z" fill="#c4283a"/><rect x="595.6" y="500.4" width="5.4" height="0.9" fill="#d23848"/>
<path d="M537.1,501.8 Q540.1,505.8 544.1,501.8 Q551.0,497.8 555.0,501.8 Q561.1,505.8 565.1,501.8 Q572.0,497.8 576.0,501.8 Q583.7,505.8 587.7,501.8 Q594.6,497.8 598.6,501.8" fill="none" stroke="#555" stroke-width="0.45"/>
<path d="M547.0,508.5 L552.4,508.5 L552.4,512.5 L547.0,512.5 Z" fill="#757575"/><path d="M552.4,508.5 L553.6,507.3 L553.6,511.3 L552.4,512.5 Z" fill="#4e4e4e"/><path d="M547.0,508.5 L548.2,507.3 L553.6,507.3 L552.4,508.5 Z" fill="#c4283a"/><rect x="547.0" y="508.5" width="5.4" height="0.9" fill="#d23848"/>
<path d="M558.7,508.5 L564.1,508.5 L564.1,512.5 L558.7,512.5 Z" fill="#757575"/><path d="M564.1,508.5 L565.3,507.3 L565.3,511.3 L564.1,512.5 Z" fill="#4e4e4e"/><path d="M558.7,508.5 L559.9,507.3 L565.3,507.3 L564.1,508.5 Z" fill="#c4283a"/><rect x="558.7" y="508.5" width="5.4" height="0.9" fill="#d23848"/>
<path d="M568.8,508.5 L574.2,508.5 L574.2,512.5 L568.8,512.5 Z" fill="#757575"/><path d="M574.2,508.5 L575.4,507.3 L575.4,511.3 L574.2,512.5 Z" fill="#4e4e4e"/><path d="M568.8,508.5 L570.0,507.3 L575.4,507.3 L574.2,508.5 Z" fill="#c4283a"/><rect x="568.8" y="508.5" width="5.4" height="0.9" fill="#d23848"/>
<path d="M578.9,508.5 L584.3,508.5 L584.3,512.5 L578.9,512.5 Z" fill="#757575"/><path d="M584.3,508.5 L585.5,507.3 L585.5,511.3 L584.3,512.5 Z" fill="#4e4e4e"/><path d="M578.9,508.5 L580.1,507.3 L585.5,507.3 L584.3,508.5 Z" fill="#c4283a"/><rect x="578.9" y="508.5" width="5.4" height="0.9" fill="#d23848"/>
<path d="M589.8,508.5 L595.2,508.5 L595.2,512.5 L589.8,512.5 Z" fill="#757575"/><path d="M595.2,508.5 L596.4,507.3 L596.4,511.3 L595.2,512.5 Z" fill="#4e4e4e"/><path d="M589.8,508.5 L591.0,507.3 L596.4,507.3 L595.2,508.5 Z" fill="#c4283a"/><rect x="589.8" y="508.5" width="5.4" height="0.9" fill="#d23848"/>
<path d="M602.4,508.5 L607.8,508.5 L607.8,512.5 L602.4,512.5 Z" fill="#757575"/><path d="M607.8,508.5 L609.0,507.3 L609.0,511.3 L607.8,512.5 Z" fill="#4e4e4e"/><path d="M602.4,508.5 L603.6,507.3 L609.0,507.3 L607.8,508.5 Z" fill="#c4283a"/><rect x="602.4" y="508.5" width="5.4" height="0.9" fill="#d23848"/>
<path d="M543.0,509.9 Q546.0,513.9 550.0,509.9 Q557.7,505.9 561.7,509.9 Q567.8,513.9 571.8,509.9 Q577.9,505.9 581.9,509.9 Q588.8,513.9 592.8,509.9 Q601.4,505.9 605.4,509.9" fill="none" stroke="#555" stroke-width="0.45"/>
<path d="M507.5,512.2 L525.1,486.4 L596.5,485.9 L616.6,514.9 L546.1,517.3 L525.1,486.4" fill="none" stroke="#111111" stroke-width="1.8" stroke-linejoin="round"/>
<path d="M507.5,512.2 L513.4,512.6" fill="none" stroke="#111111" stroke-width="1.8"/>
<path d="M544.4,486.3 L562.9,516.6 M563.5,486.2 L581.4,516.0 M582.0,486.0 L599.5,515.5" fill="none" stroke="#111111" stroke-width="0.8"/>
<path d="M513.6,512.6 L513.6,550.8 L546.4,553.6 L609.6,548.6 L610.3,515.4 M546.3,517.3 L546.3,553.6" fill="none" stroke="#111111" stroke-width="1.8" stroke-linejoin="round"/>
<path d="M523.6,552.6 L523.6,532.6 L534.4,532.6 L534.4,552.6" fill="none" stroke="#111111" stroke-width="0.9"/>
<circle cx="525.8" cy="542.6" r="0.7" fill="#3a70c8"/>
<rect x="563.4" y="525.4" width="11.2" height="12" fill="none" stroke="#111111" stroke-width="0.9"/><path d="M569.0,525.4 L569.0,537.4 M563.4,531.4 L574.6,531.4" stroke="#111111" stroke-width="0.8"/>
<rect x="589.3" y="523.6" width="11.2" height="12" fill="none" stroke="#111111" stroke-width="0.9"/><path d="M594.9,523.6 L594.9,535.6 M589.3,529.6 L600.5,529.6" stroke="#111111" stroke-width="0.8"/>
<path d="M527,490 L529.3,504" stroke="#444" stroke-width="0.4"/>
<rect x="528.2" y="503.6" width="2.2" height="2.4" fill="#333"/>
<line x1="532.10" y1="509.40" x2="534.30" y2="509.40" stroke="#e8d040" stroke-width="0.5"/>
<line x1="531.72" y1="510.80" x2="533.63" y2="511.90" stroke="#e8d040" stroke-width="0.5"/>
<line x1="530.70" y1="511.82" x2="531.80" y2="513.73" stroke="#e8d040" stroke-width="0.5"/>
<line x1="529.30" y1="512.20" x2="529.30" y2="514.40" stroke="#e8d040" stroke-width="0.5"/>
<line x1="527.90" y1="511.82" x2="526.80" y2="513.73" stroke="#e8d040" stroke-width="0.5"/>
<line x1="526.88" y1="510.80" x2="524.97" y2="511.90" stroke="#e8d040" stroke-width="0.5"/>
<line x1="526.50" y1="509.40" x2="524.30" y2="509.40" stroke="#e8d040" stroke-width="0.5"/>
<line x1="526.88" y1="508.00" x2="524.97" y2="506.90" stroke="#e8d040" stroke-width="0.5"/>
<line x1="527.90" y1="506.98" x2="526.80" y2="505.07" stroke="#e8d040" stroke-width="0.5"/>
<line x1="529.30" y1="506.60" x2="529.30" y2="504.40" stroke="#e8d040" stroke-width="0.5"/>
<line x1="530.70" y1="506.98" x2="531.80" y2="505.07" stroke="#e8d040" stroke-width="0.5"/>
<line x1="531.72" y1="508.00" x2="533.63" y2="506.90" stroke="#e8d040" stroke-width="0.5"/>
<circle cx="529.3" cy="509.4" r="2.4" fill="#f6e04a"/>
<text x="524.35" y="521.75" font-size="8.0" fill="#252222" stroke="#252222" stroke-width="0.2">Lit</text>
<text x="613.25" y="488.45" font-size="8.7" fill="#3a2e2e" stroke="#3a2e2e" stroke-width="0.2">Thermogalvanic</text>
<text x="632.50" y="499.50" font-size="8.7" fill="#3a2e2e" stroke="#3a2e2e" stroke-width="0.2">effect</text>
<path d="M629,491.4 Q622,494.5 616.5,499.2" fill="none" stroke="#f2b4aa" stroke-width="2.3"/><path d="M612.6,502.8 L613.4,496.6 L620.2,501.6 Z" fill="#f2b4aa"/>
<path d="M643.5,520.6 L650,520.6 L650,512.8 L653.1,512.8 L646.8,506 L640.6,512.8 L643.5,512.8 Z" fill="#e48576"/>
<text x="633.00" y="534.25" font-size="8.7" fill="#3a2e2e" stroke="#3a2e2e" stroke-width="0.2">Cry-gel</text>
<text x="536.85" y="570.80" font-size="9.5" fill="#252222" stroke="#252222" stroke-width="0.2">Power generation for buildings</text>
</svg></body></html>
